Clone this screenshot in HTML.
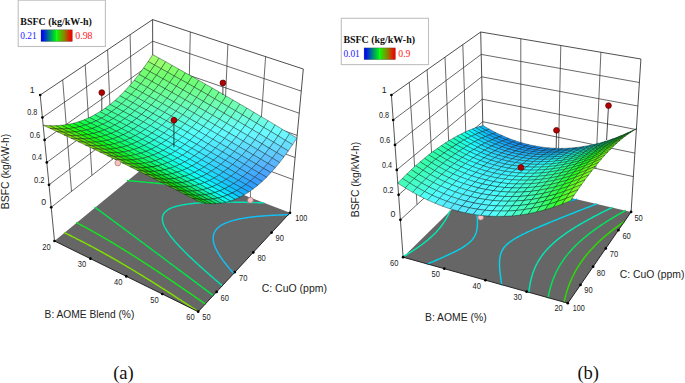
<!DOCTYPE html>
<html lang="en"><head><meta charset="utf-8"><title>BSFC response surfaces</title>
<style>html,body{margin:0;padding:0;background:#fff}svg{display:block}</style></head>
<body>
<svg width="685" height="383" viewBox="0 0 685 383">
<defs><linearGradient id="lg" x1="0" x2="1" y1="0" y2="0"><stop offset="0" stop-color="#0008f0"/><stop offset="0.06" stop-color="#0010ec"/><stop offset="0.25" stop-color="#007a86"/><stop offset="0.47" stop-color="#00ec14"/><stop offset="0.5" stop-color="#10ff30"/><stop offset="0.53" stop-color="#22e800"/><stop offset="0.75" stop-color="#8e8000"/><stop offset="0.95" stop-color="#ee0800"/><stop offset="1" stop-color="#f00000"/></linearGradient></defs>
<rect width="685" height="383" fill="#fff"/>
<polygon points="54.5,241 198.2,311.7 290,212.8 153,160" fill="#666"/>
<path d="M42.4,117.5L152.7,41.2L301.3,91.1M44.6,139.9L152.7,62.8L299.2,113.2M46.8,162.4L152.8,84.4L297.2,135.4M49,184.8L152.8,106L295.1,157.5M51.2,207.3L152.9,127.6L293.1,179.6M62.7,79.9L71.5,191.4M85.2,64.8L91.9,175.4M107.6,49.8L112.2,159.5M130.1,34.7L132.6,143.5M190.3,32L187.9,140.6M227.9,44.3L223,153.6M265.6,56.6L258,166.6" fill="none" stroke="#2a2a2a" stroke-width="0.7"/>
<path d="M40.2,95L152.6,19.6L303.3,69L290,212.8M152.6,19.6L153,160" fill="none" stroke="#222" stroke-width="0.8" stroke-linejoin="round"/>
<polyline points="196.8,310.7 195.7,310 194.6,309.2 193.4,308.4 192.2,307.7 191.1,306.9 189.9,306.1 189.3,305.7 188.7,305.4 187.6,304.6 186.4,303.8 185.3,303.1 184.1,302.3 182.9,301.6 181.8,300.8 181.6,300.7 180.6,300 179.5,299.3 178.3,298.6 177.2,297.8 176,297.1 174.9,296.3 173.8,295.6 173.7,295.6 172.6,294.8 171.5,294.1 170.3,293.4 169.2,292.6 168.1,291.9 166.9,291.2 165.8,290.5 165.6,290.3 164.7,289.7 163.5,289 162.4,288.3 161.3,287.6 160.1,286.9 159,286.1 157.9,285.4 157.1,285 156.8,284.7 155.6,284 154.5,283.3 153.4,282.6 152.3,281.9 151.2,281.2 150,280.5 148.9,279.8 148.2,279.4 147.8,279.1 146.7,278.4 145.6,277.8 144.5,277.1 143.4,276.4 142.3,275.7 141.1,275 140,274.3 138.9,273.7 138.7,273.6 137.8,273 136.7,272.3 135.6,271.7 134.5,271 133.4,270.3 132.3,269.7 131.2,269 130.1,268.3 129,267.7 128.4,267.4 127.9,267 126.8,266.4 125.7,265.7 124.6,265.1 123.5,264.4 122.4,263.8 121.3,263.2 120.2,262.5 119.1,261.9 118,261.2 116.9,260.6 116.8,260.5 115.8,260 114.7,259.3 113.7,258.7 112.6,258.1 111.5,257.5 110.4,256.9 109.3,256.2 108.2,255.6 107.1,255 106,254.4 104.9,253.8 103.8,253.2 102.8,252.6 102.8,252.6 101.7,252 100.6,251.4 99.5,250.8 98.4,250.2 97.3,249.6 96.2,249 95.2,248.4 94.1,247.8 93,247.2 91.9,246.7 90.8,246.1 89.7,245.5 88.6,244.9 87.5,244.4 86.5,243.8 85.4,243.2 84.3,242.7 83.2,242.1 82.1,241.5 81.7,241.3 81,241 79.9,240.4 78.9,239.9 77.8,239.3 76.7,238.8 75.6,238.2 74.5,237.7 73.4,237.1 72.3,236.6 71.2,236 70.2,235.5 69.1,235 68,234.4 66.9,233.9 65.8,233.4 64.7,232.9" fill="none" stroke="#7fe000" stroke-width="1.45" stroke-linecap="round" stroke-linejoin="round"/>
<polyline points="205.2,303.9 204.1,303.1 202.9,302.3 201.8,301.5 200.7,300.7 200.4,300.6 199.5,299.9 198.4,299.2 197.3,298.4 196.1,297.6 195,296.8 194.4,296.4 193.9,296 192.7,295.2 191.6,294.5 190.5,293.7 189.4,292.9 188.3,292.2 188.3,292.2 187.2,291.4 186,290.6 184.9,289.9 183.8,289.1 182.7,288.3 182.2,288 181.6,287.6 180.5,286.8 179.4,286.1 178.3,285.3 177.2,284.6 176.1,283.8 176,283.8 175,283.1 173.9,282.3 172.8,281.6 171.7,280.9 170.6,280.1 169.8,279.5 169.5,279.4 168.4,278.6 167.3,277.9 166.2,277.2 165.2,276.5 164.1,275.7 163.4,275.3 163,275 161.9,274.3 160.8,273.6 159.7,272.8 158.7,272.1 157.6,271.4 156.9,270.9 156.5,270.7 155.4,270 154.4,269.3 153.3,268.6 152.2,267.9 151.2,267.2 150.2,266.5 150.1,266.5 149,265.8 148,265.1 146.9,264.4 145.8,263.7 144.8,263 143.7,262.3 143.3,262.1 142.6,261.6 141.6,260.9 140.5,260.2 139.5,259.6 138.4,258.9 137.3,258.2 136.3,257.5 136.2,257.5 135.2,256.9 134.2,256.2 133.1,255.5 132.1,254.9 131,254.2 130,253.5 128.9,252.9 128.7,252.7 127.9,252.2 126.8,251.6 125.8,250.9 124.7,250.3 123.7,249.6 122.6,249 121.6,248.3 120.7,247.8 120.5,247.7 119.5,247 118.5,246.4 117.4,245.8 116.4,245.1 115.3,244.5 114.3,243.9 113.2,243.2 112.2,242.6 112.1,242.5 111.2,242 110.1,241.4 109.1,240.7 108,240.1 107,239.5 106,238.9 104.9,238.3 103.9,237.7 102.8,237.1 102.2,236.7 101.8,236.5 100.8,235.9 99.7,235.3 98.7,234.7 97.6,234.1 96.6,233.5 95.6,232.9 94.5,232.3 93.5,231.8 92.4,231.2 91.4,230.6 90.4,230 90.2,229.9 89.3,229.4 88.3,228.9 87.2,228.3 86.2,227.7 85.2,227.2 84.1,226.6 83.1,226.1 82,225.5 81,225 79.9,224.4 78.9,223.9 77.8,223.3 76.8,222.8" fill="none" stroke="#14e61c" stroke-width="1.45" stroke-linecap="round" stroke-linejoin="round"/>
<polyline points="143.9,166.8 145.2,167 145.8,167.1 146.4,167.3 147.7,167.5 149,167.8 150,167.9 150.3,168 151.6,168.2 152.9,168.5 154.2,168.7 154.2,168.7 155.5,168.9 156.8,169.2 158.1,169.4 158.2,169.4 159.4,169.6 160.7,169.9 162,170.1 162.3,170.1 163.3,170.3 164.7,170.6 166,170.8 166.2,170.8 167.3,171 168.6,171.2 170,171.5 170.2,171.5 171.3,171.7 172.6,171.9 173.9,172.1 174,172.1 175.3,172.3 176.6,172.6 177.9,172.8 178,172.8 179.3,173 180.7,173.2 181.7,173.4 182,173.4 183.3,173.6 184.7,173.8 185.4,173.9 186.1,174 187.4,174.3 188.8,174.5 189.2,174.5 190.1,174.7 191.5,174.9 192.9,175.1 192.9,175.1 194.2,175.3 195.6,175.5 196.6,175.6" fill="none" stroke="#14e61c" stroke-width="1.45" stroke-linecap="round" stroke-linejoin="round"/>
<polyline points="213.1,295.4 212,294.6 211.7,294.3 210.9,293.8 209.8,293 208.8,292.1 207.7,291.3 207.1,290.9 206.6,290.5 205.5,289.7 204.4,288.9 203.3,288.1 202.5,287.5 202.2,287.3 201.2,286.5 200.1,285.7 199,284.8 198,284.1 198,284 196.9,283.2 195.8,282.4 194.8,281.7 193.7,280.9 193.5,280.7 192.6,280.1 191.6,279.3 190.5,278.5 189.5,277.7 189.1,277.4 188.4,276.9 187.4,276.1 186.3,275.3 185.3,274.6 184.7,274.1 184.2,273.8 183.2,273 182.2,272.2 181.1,271.4 180.3,270.9 180.1,270.7 179,269.9 178,269.1 177,268.3 176,267.6 176,267.6 174.9,266.8 173.9,266 172.9,265.3 171.9,264.5 171.7,264.4 170.9,263.8 169.8,263 168.8,262.2 167.8,261.5 167.4,261.2 166.8,260.7 165.8,260 164.8,259.2 163.8,258.5 163.2,258 162.8,257.7 161.8,257 160.8,256.2 159.8,255.5 159,254.9 158.8,254.7 157.8,254 156.8,253.2 155.8,252.5 154.8,251.8 154.8,251.8 153.8,251 152.9,250.3 151.9,249.6 150.9,248.8 150.7,248.7 149.9,248.1 148.9,247.4 148,246.6 147,245.9 146.5,245.6 146,245.2 145.1,244.5 144.1,243.7 143.1,243 142.5,242.5 142.2,242.3 141.2,241.6 140.2,240.9 139.3,240.2 138.4,239.5 138.3,239.4 137.4,238.7 136.4,238 135.5,237.3 134.5,236.6 134.4,236.5 133.6,235.9 132.6,235.2 131.7,234.5 130.7,233.8 130.3,233.5 129.8,233.1 128.9,232.4 127.9,231.7 127,231 126.4,230.5 126,230.3 125.1,229.6 124.2,228.9 123.2,228.2 122.4,227.6 122.3,227.5 121.4,226.8 120.5,226.1 119.5,225.5 118.6,224.8 118.4,224.6 117.7,224.1 116.8,223.4 115.9,222.7 114.9,222 114.5,221.7 114,221.4 113.1,220.7 112.2,220 111.3,219.3 110.6,218.8 110.4,218.7 109.5,218 108.6,217.3 107.7,216.7 106.8,216 106.7,215.9 105.9,215.3 105,214.7 104.1,214 103.2,213.3 102.8,213.1 102.3,212.7 101.4,212 100.5,211.4 99.6,210.7 98.9,210.2 98.7,210 97.8,209.4 96.9,208.7 96.1,208.1 95.2,207.4" fill="none" stroke="#00e648" stroke-width="1.45" stroke-linecap="round" stroke-linejoin="round"/>
<polyline points="127.4,180.5 128.9,180.6 129.4,180.7 130.3,180.8 131.8,180.9 132.4,181 133.2,181 134.7,181.2 135.4,181.2 136.1,181.3 137.5,181.4 138.4,181.5 139,181.6 140.4,181.7 141.4,181.8 141.9,181.9 143.3,182 144.4,182.1 144.8,182.1 146.2,182.3 147.4,182.4 147.7,182.4 149.1,182.5 150.4,182.6 150.6,182.7 152,182.8 153.4,182.9 153.5,182.9 154.9,183.1 156.4,183.2 156.4,183.2 157.9,183.3 159.3,183.5 159.4,183.5 160.8,183.6 162.2,183.7 162.4,183.7 163.7,183.9 165.1,184 165.4,184 166.6,184.1 168.1,184.3 168.4,184.3 169.5,184.4 171,184.5 171.4,184.6 172.5,184.7 173.9,184.8 174.5,184.8 175.4,184.9 176.8,185.1 177.5,185.1 178.3,185.2 179.8,185.3 180.5,185.4 181.2,185.5 182.7,185.6 183.5,185.7 184.2,185.7 185.7,185.9 186.5,185.9 187.1,186 188.6,186.1 189.5,186.2 190.1,186.3 191.5,186.4 192.6,186.5 193,186.5 194.5,186.7 195.6,186.8 196,186.8 197.4,186.9 198.6,187 198.9,187.1 200.4,187.2 201.7,187.3 201.9,187.3 203.3,187.5 204.7,187.6 204.8,187.6 206.3,187.7 207.7,187.9 207.8,187.9 209.3,188 210.7,188.1 210.8,188.1 212.2,188.3 213.7,188.4 213.8,188.4 215.2,188.5 216.7,188.7 216.8,188.7 218.2,188.8 219.6,188.9 219.9,189 221.1,189.1 222.6,189.2 222.9,189.2 224.1,189.3 225.6,189.5 226,189.5 227.1,189.6 228.6,189.7 229,189.8 230.1,189.9 231.6,190 232.1,190.1" fill="none" stroke="#00e648" stroke-width="1.45" stroke-linecap="round" stroke-linejoin="round"/>
<polyline points="222.3,285.6 221.8,285.2 221.3,284.7 220.2,283.9 219.2,283 218.6,282.5 218.2,282.1 217.2,281.3 216.1,280.4 215.5,279.8 215.1,279.5 214.1,278.7 213.1,277.8 212.4,277.2 212.1,276.9 211.1,276.1 210.1,275.2 209.4,274.6 209.1,274.3 208.2,273.5 207.2,272.6 206.5,272 206.2,271.7 205.2,270.9 204.2,270 203.6,269.5 203.3,269.2 202.3,268.3 201.3,267.4 200.9,267 200.4,266.6 199.4,265.7 198.5,264.8 198.2,264.6 197.5,264 196.6,263.1 195.7,262.3 195.6,262.2 194.7,261.4 193.8,260.5 193.1,259.9 192.9,259.7 192,258.8 191,257.9 190.7,257.6 190.1,257.1 189.2,256.2 188.3,255.4 188.3,255.3 187.4,254.5 186.5,253.6 186.1,253.2 185.7,252.7 184.8,251.8 183.9,251 183.9,251 183,250.1 182.2,249.2 181.9,248.9 181.3,248.3 180.5,247.5 179.9,246.9 179.6,246.6 178.8,245.7 178.1,244.9 178,244.8 177.2,243.9 176.3,243 176.3,242.9 175.5,242.1 174.7,241.2 174.6,241 174,240.3 173.2,239.3 173,239.2 172.4,238.4 171.7,237.5 171.6,237.4 170.9,236.6 170.2,235.7 170.2,235.6 169.5,234.6 169,234 168.8,233.7 168.1,232.7 167.8,232.3 167.4,231.7 166.8,230.8 166.8,230.7 166.2,229.7 165.9,229.2 165.6,228.7 165,227.7 165,227.6 164.4,226.5 164.3,226.3 163.9,225.4 163.7,225 163.5,224.3 163.2,223.6 163.1,223.1 162.9,222.4 162.7,221.8 162.6,221.2 162.5,220.5 162.4,220 162.4,219 162.4,218.9 162.4,217.8 162.5,217.4 162.5,216.8 162.8,215.8 162.9,215.4 163.1,214.9 163.6,214 164.1,213.2 164.7,212.4 165.5,211.7 166.3,210.9 167.2,210.3 168.1,209.6 169.2,209 170.3,208.5 170.8,208.2 171.5,207.9 172.8,207.4 173.7,207.1 174.1,207 175.5,206.5 176.3,206.3 177,206.1 178.5,205.7 178.6,205.7 180.1,205.4 180.8,205.2 181.7,205 182.9,204.8 183.4,204.7 184.9,204.5 185.1,204.4 186.9,204.2 186.9,204.2 188.8,203.9 188.8,203.9 190.6,203.7 190.7,203.7 192.6,203.5 192.6,203.5 194.5,203.3 194.5,203.3 196.3,203.2 196.5,203.1 198.1,203 198.6,203 199.9,202.9 200.7,202.8 201.7,202.8 202.8,202.7 203.4,202.7 204.9,202.6 205.2,202.6 206.9,202.5 207.1,202.5 208.7,202.4 209.3,202.4 210.4,202.4 211.5,202.3 212.1,202.3 213.8,202.3 213.8,202.3 215.5,202.2 216.1,202.2 217.2,202.2 218.4,202.2 218.9,202.2 220.6,202.2 220.8,202.2 222.2,202.1 223.1,202.1 223.9,202.1 225.5,202.1 225.6,202.1 227.2,202.1 227.9,202.1 228.9,202.1 230.4,202.1 230.5,202.1 232.2,202.1 232.8,202.1 233.8,202.2 235.3,202.2 235.5,202.2 237.1,202.2 237.8,202.2 238.7,202.2 240.3,202.2 240.4,202.2 242,202.3 242.8,202.3 243.6,202.3 245.2,202.3 245.4,202.3 246.9,202.4 247.9,202.4 248.5,202.4 250.1,202.5 250.5,202.5 251.7,202.5 253.1,202.5 253.3,202.5 255,202.6 255.7,202.6 256.6,202.6 258.2,202.7 258.3,202.7 259.8,202.8 261,202.8 261.4,202.8 263,202.9 263.6,202.9" fill="none" stroke="#00e2b4" stroke-width="1.45" stroke-linecap="round" stroke-linejoin="round"/>
<polyline points="233.7,273.4 232.9,272.4 232.3,271.8 232,271.4 231.1,270.4 230.6,269.8 230.2,269.4 229.4,268.4 228.9,267.9 228.5,267.4 227.7,266.3 227.4,266 226.8,265.3 226,264.3 225.9,264.1 225.2,263.3 224.5,262.3 224.4,262.2 223.6,261.2 223.1,260.6 222.8,260.1 222.1,259.1 221.9,258.8 221.3,258 220.7,257.1 220.6,256.9 219.9,255.8 219.7,255.5 219.2,254.7 218.7,253.9 218.5,253.6 217.8,252.5 217.7,252.4 217.2,251.3 216.9,250.8 216.6,250.1 216.2,249.4 216,248.9 215.5,247.9 215.4,247.7 214.9,246.6 214.9,246.4 214.4,245.2 214.4,245.1 214,243.9 214,243.8 213.7,242.6 213.6,242.4 213.4,241.4 213.4,240.9 213.3,240.2 213.2,239.4 213.2,239 213.2,237.9 213.2,237.7 213.2,236.8 213.3,235.8 213.4,235.7 213.6,234.8 213.8,233.8 214,233.4 214.2,232.9 214.6,232 215.1,231.1 215.7,230.3 216.3,229.4 216.9,228.8 217,228.7 217.8,227.9 217.9,227.8 218.6,227.2 219.5,226.5 220.4,225.8 221.4,225.2 222.5,224.6 223.3,224.2 223.6,224 224.8,223.4 226,222.9 226.4,222.7 227.3,222.4 228.6,221.9 229.2,221.7 229.9,221.4 231.4,221 231.7,220.9 232.8,220.6 234,220.2 234.3,220.1 235.9,219.8 236.3,219.7 237.5,219.4 238.5,219.2 239.1,219 240.6,218.7 240.8,218.7 242.5,218.4 242.7,218.3 244.2,218.1 244.7,218 246,217.8 246.7,217.7 247.9,217.5 248.7,217.4 249.7,217.3 250.6,217.2 251.6,217 252.6,216.9 253.5,216.8 254.5,216.7 255.5,216.6 256.4,216.5 257.5,216.4 258.2,216.3 259.5,216.2 260.1,216.2 261.5,216 261.9,216 263.6,215.9 263.8,215.9 265.6,215.7 265.7,215.7 267.4,215.6 267.8,215.6 269.2,215.5 269.9,215.4 271,215.4 272.1,215.3 272.8,215.3 274.3,215.2 274.5,215.2 276.3,215.1 276.5,215.1 278.1,215.1 278.7,215 279.8,215 281,214.9 281.6,214.9 283.3,214.9 283.3,214.9 285,214.8 285.6,214.8 286.8,214.8 287.9,214.8 288.5,214.7" fill="none" stroke="#12c0f6" stroke-width="1.45" stroke-linecap="round" stroke-linejoin="round"/>
<line x1="117.8" y1="163" x2="117.8" y2="158" stroke="#333" stroke-width="0.7"/>
<line x1="250.4" y1="200.2" x2="250.4" y2="191" stroke="#333" stroke-width="0.7"/>
<g stroke="#07140c" stroke-opacity="0.72" stroke-width="0.55" stroke-linejoin="round">
<polygon points="148.1,61.5 154.6,65.1 159.1,58.1 152.7,54.6" fill="#9eff6e"/>
<polygon points="143.5,68.1 150,71.7 154.6,65.1 148.1,61.5" fill="#85ff6e"/>
<polygon points="154.6,65.1 161.1,68.7 165.7,61.7 159.1,58.1" fill="#95ff6e"/>
<polygon points="161.1,68.7 167.7,72.3 172.2,65.4 165.7,61.7" fill="#8bff6e"/>
<polygon points="150,71.7 156.5,75.2 161.1,68.7 154.6,65.1" fill="#7cff6e"/>
<polygon points="138.9,74.4 145.4,77.9 150,71.7 143.5,68.1" fill="#70ff6e"/>
<polygon points="167.7,72.3 174.3,76 178.8,69.1 172.2,65.4" fill="#81ff6e"/>
<polygon points="156.5,75.2 163.1,78.9 167.7,72.3 161.1,68.7" fill="#73ff6e"/>
<polygon points="145.4,77.9 151.9,81.5 156.5,75.2 150,71.7" fill="#6eff74"/>
<polygon points="134.2,80.3 140.7,83.8 145.4,77.9 138.9,74.4" fill="#6dff7d"/>
<polygon points="174.3,76 180.9,79.7 185.4,72.8 178.8,69.1" fill="#78ff6e"/>
<polygon points="163.1,78.9 169.7,82.5 174.3,76 167.7,72.3" fill="#6eff71"/>
<polygon points="151.9,81.5 158.5,85.1 163.1,78.9 156.5,75.2" fill="#6eff7c"/>
<polygon points="140.7,83.8 147.3,87.3 151.9,81.5 145.4,77.9" fill="#6dff84"/>
<polygon points="129.5,85.8 136,89.3 140.7,83.8 134.2,80.3" fill="#6aff88"/>
<polygon points="180.9,79.7 187.6,83.4 192.1,76.6 185.4,72.8" fill="#6eff6e"/>
<polygon points="169.7,82.5 176.3,86.2 180.9,79.7 174.3,76" fill="#6eff7a"/>
<polygon points="158.5,85.1 165.1,88.7 169.7,82.5 163.1,78.9" fill="#6eff84"/>
<polygon points="147.3,87.3 153.8,90.9 158.5,85.1 151.9,81.5" fill="#6cff8a"/>
<polygon points="136,89.3 142.6,92.8 147.3,87.3 140.7,83.8" fill="#69ff8e"/>
<polygon points="124.7,91 131.2,94.5 136,89.3 129.5,85.8" fill="#65ff90"/>
<polygon points="187.6,83.4 194.3,87.2 198.8,80.4 192.1,76.6" fill="#6eff77"/>
<polygon points="176.3,86.2 183,89.9 187.6,83.4 180.9,79.7" fill="#6eff82"/>
<polygon points="165.1,88.7 171.8,92.4 176.3,86.2 169.7,82.5" fill="#6eff8b"/>
<polygon points="153.8,90.9 160.5,94.5 165.1,88.7 158.5,85.1" fill="#6cff91"/>
<polygon points="142.6,92.8 149.2,96.4 153.8,90.9 147.3,87.3" fill="#69ff95"/>
<polygon points="194.3,87.2 201.1,91 205.6,84.2 198.8,80.4" fill="#6eff80"/>
<polygon points="131.2,94.5 137.8,98 142.6,92.8 136,89.3" fill="#65ff97"/>
<polygon points="183,89.9 189.8,93.7 194.3,87.2 187.6,83.4" fill="#6eff8b"/>
<polygon points="171.8,92.4 178.5,96.1 183,89.9 176.3,86.2" fill="#6eff93"/>
<polygon points="160.5,94.5 167.1,98.2 171.8,92.4 165.1,88.7" fill="#6bff99"/>
<polygon points="119.9,95.9 126.4,99.3 131.2,94.5 124.7,91" fill="#60ff97"/>
<polygon points="149.2,96.4 155.8,100 160.5,94.5 153.8,90.9" fill="#68ff9d"/>
<polygon points="201.1,91 207.9,94.9 212.4,88.1 205.6,84.2" fill="#6eff89"/>
<polygon points="189.8,93.7 196.5,97.5 201.1,91 194.3,87.2" fill="#6eff93"/>
<polygon points="137.8,98 144.4,101.6 149.2,96.4 142.6,92.8" fill="#64ffa0"/>
<polygon points="178.5,96.1 185.2,99.8 189.8,93.7 183,89.9" fill="#6dff9b"/>
<polygon points="167.1,98.2 173.9,101.9 178.5,96.1 171.8,92.4" fill="#6bffa2"/>
<polygon points="126.4,99.3 133,102.8 137.8,98 131.2,94.5" fill="#5fff9f"/>
<polygon points="155.8,100 162.5,103.6 167.1,98.2 160.5,94.5" fill="#67ffa6"/>
<polygon points="207.9,94.9 214.7,98.8 219.2,92 212.4,88.1" fill="#6eff92"/>
<polygon points="196.5,97.5 203.4,101.4 207.9,94.9 201.1,91" fill="#6eff9b"/>
<polygon points="115,100.4 121.6,103.8 126.4,99.3 119.9,95.9" fill="#59ff9c"/>
<polygon points="144.4,101.6 151.1,105.1 155.8,100 149.2,96.4" fill="#63ffa8"/>
<polygon points="185.2,99.8 192,103.6 196.5,97.5 189.8,93.7" fill="#6dffa5"/>
<polygon points="173.9,101.9 180.6,105.6 185.2,99.8 178.5,96.1" fill="#6affac"/>
<polygon points="133,102.8 139.6,106.4 144.4,101.6 137.8,98" fill="#5effa8"/>
<polygon points="162.5,103.6 169.2,107.3 173.9,101.9 167.1,98.2" fill="#66ffb0"/>
<polygon points="214.7,98.8 221.6,102.8 226.1,96 219.2,92" fill="#6eff9b"/>
<polygon points="203.4,101.4 210.2,105.3 214.7,98.8 207.9,94.9" fill="#6effa6"/>
<polygon points="121.6,103.8 128.2,107.3 133,102.8 126.4,99.3" fill="#58ffa4"/>
<polygon points="151.1,105.1 157.8,108.8 162.5,103.6 155.8,100" fill="#62ffb1"/>
<polygon points="192,103.6 198.8,107.5 203.4,101.4 196.5,97.5" fill="#6cffaf"/>
<polygon points="180.6,105.6 187.4,109.4 192,103.6 185.2,99.8" fill="#69ffb6"/>
<polygon points="139.6,106.4 146.3,109.9 151.1,105.1 144.4,101.6" fill="#5dffb1"/>
<polygon points="110.1,104.5 116.6,107.9 121.6,103.8 115,100.4" fill="#52ff9e"/>
<polygon points="221.6,102.8 228.5,106.8 233,100 226.1,96" fill="#6effa6"/>
<polygon points="169.2,107.3 176,111.1 180.6,105.6 173.9,101.9" fill="#66ffb9"/>
<polygon points="210.2,105.3 217.1,109.2 221.6,102.8 214.7,98.8" fill="#6effb2"/>
<polygon points="128.2,107.3 134.8,110.8 139.6,106.4 133,102.8" fill="#57ffad"/>
<polygon points="198.8,107.5 205.7,111.4 210.2,105.3 203.4,101.4" fill="#6cffba"/>
<polygon points="157.8,108.8 164.5,112.4 169.2,107.3 162.5,103.6" fill="#61ffbb"/>
<polygon points="187.4,109.4 194.2,113.2 198.8,107.5 192,103.6" fill="#69ffc0"/>
<polygon points="146.3,109.9 153,113.5 157.8,108.8 151.1,105.1" fill="#5cffba"/>
<polygon points="228.5,106.8 235.5,110.8 239.9,104.1 233,100" fill="#6effb2"/>
<polygon points="116.6,107.9 123.2,111.4 128.2,107.3 121.6,103.8" fill="#51ffa6"/>
<polygon points="176,111.1 182.8,114.8 187.4,109.4 180.6,105.6" fill="#65ffc3"/>
<polygon points="217.1,109.2 224,113.2 228.5,106.8 221.6,102.8" fill="#6dffbd"/>
<polygon points="205.7,111.4 212.6,115.3 217.1,109.2 210.2,105.3" fill="#6bffc5"/>
<polygon points="134.8,110.8 141.5,114.4 146.3,109.9 139.6,106.4" fill="#56ffb6"/>
<polygon points="164.5,112.4 171.3,116.1 176,111.1 169.2,107.3" fill="#61ffc5"/>
<polygon points="105,108.3 111.6,111.7 116.6,107.9 110.1,104.5" fill="#49ff9c"/>
<polygon points="194.2,113.2 201.1,117.1 205.7,111.4 198.8,107.5" fill="#68ffcb"/>
<polygon points="235.5,110.8 242.5,114.9 246.9,108.1 239.9,104.1" fill="#6effbe"/>
<polygon points="153,113.5 159.8,117.2 164.5,112.4 157.8,108.8" fill="#5bffc3"/>
<polygon points="182.8,114.8 189.6,118.6 194.2,113.2 187.4,109.4" fill="#64ffce"/>
<polygon points="123.2,111.4 129.9,114.9 134.8,110.8 128.2,107.3" fill="#50ffae"/>
<polygon points="224,113.2 231,117.2 235.5,110.8 228.5,106.8" fill="#6dffc8"/>
<polygon points="212.6,115.3 219.5,119.2 224,113.2 217.1,109.2" fill="#6affd1"/>
<polygon points="171.3,116.1 178.1,119.9 182.8,114.8 176,111.1" fill="#60ffd0"/>
<polygon points="141.5,114.4 148.2,117.9 153,113.5 146.3,109.9" fill="#55ffbf"/>
<polygon points="201.1,117.1 208,121 212.6,115.3 205.7,111.4" fill="#67ffd7"/>
<polygon points="111.6,111.7 118.2,115.1 123.2,111.4 116.6,107.9" fill="#48ffa4"/>
<polygon points="242.5,114.9 249.5,119 253.9,112.3 246.9,108.1" fill="#6effcb"/>
<polygon points="159.8,117.2 166.6,120.9 171.3,116.1 164.5,112.4" fill="#5affce"/>
<polygon points="231,117.2 238,121.3 242.5,114.9 235.5,110.8" fill="#6cffd5"/>
<polygon points="189.6,118.6 196.5,122.5 201.1,117.1 194.2,113.2" fill="#63ffda"/>
<polygon points="129.9,114.9 136.6,118.4 141.5,114.4 134.8,110.8" fill="#4effb7"/>
<polygon points="219.5,119.2 226.5,123.3 231,117.2 224,113.2" fill="#6affdd"/>
<polygon points="99.9,111.7 106.5,115.1 111.6,111.7 105,108.3" fill="#40ff95"/>
<polygon points="178.1,119.9 185,123.7 189.6,118.6 182.8,114.8" fill="#5fffdb"/>
<polygon points="148.2,117.9 155,121.6 159.8,117.2 153,113.5" fill="#54ffc9"/>
<polygon points="208,121 215,125 219.5,119.2 212.6,115.3" fill="#67ffe3"/>
<polygon points="249.5,119 256.6,123.2 261,116.5 253.9,112.3" fill="#6effd8"/>
<polygon points="118.2,115.1 124.9,118.6 129.9,114.9 123.2,111.4" fill="#47ffac"/>
<polygon points="238,121.3 245.1,125.4 249.5,119 242.5,114.9" fill="#6cffe2"/>
<polygon points="166.6,120.9 173.4,124.6 178.1,119.9 171.3,116.1" fill="#59ffd9"/>
<polygon points="196.5,122.5 203.5,126.4 208,121 201.1,117.1" fill="#63ffe6"/>
<polygon points="136.6,118.4 143.4,122 148.2,117.9 141.5,114.4" fill="#4dffc1"/>
<polygon points="226.5,123.3 233.5,127.3 238,121.3 231,117.2" fill="#69ffea"/>
<polygon points="185,123.7 191.9,127.5 196.5,122.5 189.6,118.6" fill="#5effe6"/>
<polygon points="106.5,115.1 113.2,118.5 118.2,115.1 111.6,111.7" fill="#3eff9d"/>
<polygon points="155,121.6 161.8,125.3 166.6,120.9 159.8,117.2" fill="#53ffd4"/>
<polygon points="215,125 222,129 226.5,123.3 219.5,119.2" fill="#66ffef"/>
<polygon points="256.6,123.2 263.7,127.4 268.1,120.7 261,116.5" fill="#6dffe6"/>
<polygon points="124.9,118.6 131.7,122.2 136.6,118.4 129.9,114.9" fill="#46ffb5"/>
<polygon points="245.1,125.4 252.2,129.5 256.6,123.2 249.5,119" fill="#6bfff0"/>
<polygon points="203.5,126.4 210.5,130.3 215,125 208,121" fill="#62fff2"/>
<polygon points="173.4,124.6 180.3,128.4 185,123.7 178.1,119.9" fill="#58ffe4"/>
<polygon points="233.5,127.3 240.6,131.4 245.1,125.4 238,121.3" fill="#69fff7"/>
<polygon points="143.4,122 150.2,125.6 155,121.6 148.2,117.9" fill="#4cffcb"/>
<polygon points="94.7,114.8 101.4,118.2 106.5,115.1 99.9,111.7" fill="#35ff8a"/>
<polygon points="191.9,127.5 198.9,131.4 203.5,126.4 196.5,122.5" fill="#5dfff2"/>
<polygon points="222,129 229.1,133 233.5,127.3 226.5,123.3" fill="#65fffa"/>
<polygon points="263.7,127.4 270.9,131.6 275.2,124.9 268.1,120.7" fill="#6dfff4"/>
<polygon points="161.8,125.3 168.7,129 173.4,124.6 166.6,120.9" fill="#52ffdf"/>
<polygon points="113.2,118.5 119.9,122 124.9,118.6 118.2,115.1" fill="#3dffa5"/>
<polygon points="252.2,129.5 259.3,133.7 263.7,127.4 256.6,123.2" fill="#6bfffb"/>
<polygon points="131.7,122.2 138.4,125.7 143.4,122 136.6,118.4" fill="#44ffbe"/>
<polygon points="210.5,130.3 217.5,134.3 222,129 215,125" fill="#61fffc"/>
<polygon points="180.3,128.4 187.3,132.2 191.9,127.5 185,123.7" fill="#57fff0"/>
<polygon points="240.6,131.4 247.7,135.5 252.2,129.5 245.1,125.4" fill="#68feff"/>
<polygon points="150.2,125.6 157,129.3 161.8,125.3 155,121.6" fill="#4bffd6"/>
<polygon points="270.9,131.6 278.1,135.9 282.4,129.3 275.2,124.9" fill="#6cfffe"/>
<polygon points="198.9,131.4 205.9,135.3 210.5,130.3 203.5,126.4" fill="#5cfffc"/>
<polygon points="101.4,118.2 108,121.6 113.2,118.5 106.5,115.1" fill="#34ff92"/>
<polygon points="229.1,133 236.2,137.1 240.6,131.4 233.5,127.3" fill="#64fbff"/>
<polygon points="168.7,129 175.6,132.8 180.3,128.4 173.4,124.6" fill="#51ffea"/>
<polygon points="259.3,133.7 266.5,138 270.9,131.6 263.7,127.4" fill="#6afaff"/>
<polygon points="119.9,122 126.6,125.5 131.7,122.2 124.9,118.6" fill="#3cffae"/>
<polygon points="217.5,134.3 224.6,138.3 229.1,133 222,129" fill="#60faff"/>
<polygon points="138.4,125.7 145.2,129.3 150.2,125.6 143.4,122" fill="#43ffc9"/>
<polygon points="187.3,132.2 194.2,136.1 198.9,131.4 191.9,127.5" fill="#56fffa"/>
<polygon points="247.7,135.5 254.9,139.7 259.3,133.7 252.2,129.5" fill="#67f5ff"/>
<polygon points="157,129.3 163.9,133 168.7,129 161.8,125.3" fill="#4affe1"/>
<polygon points="278.1,135.9 285.3,140.3 289.6,133.6 282.4,129.3" fill="#6cf6ff"/>
<polygon points="89.5,117.5 96.1,120.9 101.4,118.2 94.7,114.8" fill="#2aff79"/>
<polygon points="236.2,137.1 243.3,141.2 247.7,135.5 240.6,131.4" fill="#64f3ff"/>
<polygon points="205.9,135.3 212.9,139.3 217.5,134.3 210.5,130.3" fill="#5bfaff"/>
<polygon points="108,121.6 114.8,125 119.9,122 113.2,118.5" fill="#33ff9a"/>
<polygon points="266.5,138 273.7,142.2 278.1,135.9 270.9,131.6" fill="#69f1ff"/>
<polygon points="175.6,132.8 182.6,136.6 187.3,132.2 180.3,128.4" fill="#50fff6"/>
<polygon points="126.6,125.5 133.4,129.1 138.4,125.7 131.7,122.2" fill="#3affb7"/>
<polygon points="224.6,138.3 231.7,142.4 236.2,137.1 229.1,133" fill="#5ff1ff"/>
<polygon points="254.9,139.7 262.1,143.9 266.5,138 259.3,133.7" fill="#67ecff"/>
<polygon points="194.2,136.1 201.3,140 205.9,135.3 198.9,131.4" fill="#55fcff"/>
<polygon points="145.2,129.3 152.1,133 157,129.3 150.2,125.6" fill="#42ffd3"/>
<polygon points="285.3,140.3 292.6,144.6 296.9,138 289.6,133.6" fill="#6bedff"/>
<polygon points="163.9,133 170.8,136.8 175.6,132.8 168.7,129" fill="#48ffec"/>
<polygon points="243.3,141.2 250.5,145.4 254.9,139.7 247.7,135.5" fill="#63eaff"/>
<polygon points="212.9,139.3 220,143.3 224.6,138.3 217.5,134.3" fill="#5af2ff"/>
<polygon points="96.1,120.9 102.8,124.2 108,121.6 101.4,118.2" fill="#29ff81"/>
<polygon points="273.7,142.2 281,146.6 285.3,140.3 278.1,135.9" fill="#69e7ff"/>
<polygon points="114.8,125 121.5,128.5 126.6,125.5 119.9,122" fill="#31ffa2"/>
<polygon points="182.6,136.6 189.6,140.4 194.2,136.1 187.3,132.2" fill="#4ffffe"/>
<polygon points="231.7,142.4 238.8,146.5 243.3,141.2 236.2,137.1" fill="#5ee9ff"/>
<polygon points="133.4,129.1 140.3,132.7 145.2,129.3 138.4,125.7" fill="#39ffc1"/>
<polygon points="262.1,143.9 269.3,148.2 273.7,142.2 266.5,138" fill="#66e3ff"/>
<polygon points="201.3,140 208.3,144 212.9,139.3 205.9,135.3" fill="#54f4ff"/>
<polygon points="152.1,133 159,136.7 163.9,133 157,129.3" fill="#40ffde"/>
<polygon points="250.5,145.4 257.7,149.6 262.1,143.9 254.9,139.7" fill="#62e0ff"/>
<polygon points="170.8,136.8 177.8,140.6 182.6,136.6 175.6,132.8" fill="#47fff7"/>
<polygon points="220,143.3 227.2,147.4 231.7,142.4 224.6,138.3" fill="#59e9ff"/>
<polygon points="281,146.6 288.3,150.9 292.6,144.6 285.3,140.3" fill="#68ddff"/>
<polygon points="84.1,119.8 90.8,123.2 96.1,120.9 89.5,117.5" fill="#1fff63"/>
<polygon points="102.8,124.2 109.6,127.7 114.8,125 108,121.6" fill="#27ff89"/>
<polygon points="189.6,140.4 196.6,144.3 201.3,140 194.2,136.1" fill="#4ef8ff"/>
<polygon points="121.5,128.5 128.4,132.1 133.4,129.1 126.6,125.5" fill="#30ffab"/>
<polygon points="238.8,146.5 246,150.7 250.5,145.4 243.3,141.2" fill="#5edfff"/>
<polygon points="269.3,148.2 276.6,152.5 281,146.6 273.7,142.2" fill="#65d9ff"/>
<polygon points="140.3,132.7 147.2,136.3 152.1,133 145.2,129.3" fill="#38ffcc"/>
<polygon points="208.3,144 215.5,148 220,143.3 212.9,139.3" fill="#53ecff"/>
<polygon points="159,136.7 166,140.4 170.8,136.8 163.9,133" fill="#3fffea"/>
<polygon points="257.7,149.6 265,153.8 269.3,148.2 262.1,143.9" fill="#61d6ff"/>
<polygon points="227.2,147.4 234.3,151.5 238.8,146.5 231.7,142.4" fill="#58e0ff"/>
<polygon points="177.8,140.6 184.8,144.4 189.6,140.4 182.6,136.6" fill="#46ffff"/>
<polygon points="90.8,123.2 97.5,126.5 102.8,124.2 96.1,120.9" fill="#1dff69"/>
<polygon points="196.6,144.3 203.7,148.3 208.3,144 201.3,140" fill="#4cf0ff"/>
<polygon points="109.6,127.7 116.4,131.2 121.5,128.5 114.8,125" fill="#26ff91"/>
<polygon points="276.6,152.5 283.9,156.9 288.3,150.9 281,146.6" fill="#64ceff"/>
<polygon points="246,150.7 253.3,154.9 257.7,149.6 250.5,145.4" fill="#5dd5ff"/>
<polygon points="128.4,132.1 135.2,135.6 140.3,132.7 133.4,129.1" fill="#2effb5"/>
<polygon points="215.5,148 222.6,152 227.2,147.4 220,143.3" fill="#52e3ff"/>
<polygon points="147.2,136.3 154.1,140 159,136.7 152.1,133" fill="#36ffd7"/>
<polygon points="265,153.8 272.3,158.1 276.6,152.5 269.3,148.2" fill="#60ccff"/>
<polygon points="166,140.4 173,144.2 177.8,140.6 170.8,136.8" fill="#3efff5"/>
<polygon points="234.3,151.5 241.6,155.6 246,150.7 238.8,146.5" fill="#57d6ff"/>
<polygon points="184.8,144.4 191.9,148.3 196.6,144.3 189.6,140.4" fill="#45f7ff"/>
<polygon points="78.6,121.8 85.3,125.1 90.8,123.2 84.1,119.8" fill="#12ff49"/>
<polygon points="203.7,148.3 210.9,152.3 215.5,148 208.3,144" fill="#4be8ff"/>
<polygon points="253.3,154.9 260.6,159.1 265,153.8 257.7,149.6" fill="#5ccbff"/>
<polygon points="97.5,126.5 104.3,130 109.6,127.7 102.8,124.2" fill="#1cff71"/>
<polygon points="116.4,131.2 123.2,134.7 128.4,132.1 121.5,128.5" fill="#24ff99"/>
<polygon points="135.2,135.6 142.1,139.3 147.2,136.3 140.3,132.7" fill="#2dffbf"/>
<polygon points="222.6,152 229.8,156.1 234.3,151.5 227.2,147.4" fill="#51d9ff"/>
<polygon points="154.1,140 161.1,143.7 166,140.4 159,136.7" fill="#35ffe2"/>
<polygon points="272.3,158.1 279.6,162.5 283.9,156.9 276.6,152.5" fill="#60c1ff"/>
<polygon points="173,144.2 180.1,148 184.8,144.4 177.8,140.6" fill="#3cfffd"/>
<polygon points="241.6,155.6 248.8,159.8 253.3,154.9 246,150.7" fill="#56ccff"/>
<polygon points="191.9,148.3 199,152.2 203.7,148.3 196.6,144.3" fill="#43efff"/>
<polygon points="260.6,159.1 267.9,163.4 272.3,158.1 265,153.8" fill="#5bc1ff"/>
<polygon points="210.9,152.3 218,156.3 222.6,152 215.5,148" fill="#4adfff"/>
<polygon points="85.3,125.1 92.1,128.5 97.5,126.5 90.8,123.2" fill="#11ff4f"/>
<polygon points="104.3,130 111.1,133.4 116.4,131.2 109.6,127.7" fill="#1aff79"/>
<polygon points="123.2,134.7 130.1,138.2 135.2,135.6 128.4,132.1" fill="#23ffa2"/>
<polygon points="229.8,156.1 237.1,160.2 241.6,155.6 234.3,151.5" fill="#50cfff"/>
<polygon points="142.1,139.3 149.1,142.9 154.1,140 147.2,136.3" fill="#2bffca"/>
<polygon points="161.1,143.7 168.1,147.5 173,144.2 166,140.4" fill="#33ffee"/>
<polygon points="248.8,159.8 256.2,164 260.6,159.1 253.3,154.9" fill="#55c2ff"/>
<polygon points="180.1,148 187.2,151.9 191.9,148.3 184.8,144.4" fill="#3bf9ff"/>
<polygon points="199,152.2 206.2,156.2 210.9,152.3 203.7,148.3" fill="#42e6ff"/>
<polygon points="267.9,163.4 275.3,167.7 279.6,162.5 272.3,158.1" fill="#5ab6ff"/>
<polygon points="218,156.3 225.3,160.4 229.8,156.1 222.6,152" fill="#49d5ff"/>
<polygon points="92.1,128.5 98.9,131.9 104.3,130 97.5,126.5" fill="#0fff54"/>
<polygon points="237.1,160.2 244.4,164.4 248.8,159.8 241.6,155.6" fill="#4fc5ff"/>
<polygon points="111.1,133.4 118,136.9 123.2,134.7 116.4,131.2" fill="#18ff81"/>
<polygon points="73,123.4 79.8,126.7 85.3,125.1 78.6,121.8" fill="#0fff32"/>
<polygon points="130.1,138.2 137.1,141.8 142.1,139.3 135.2,135.6" fill="#21ffac"/>
<polygon points="149.1,142.9 156.1,146.6 161.1,143.7 154.1,140" fill="#2affd5"/>
<polygon points="168.1,147.5 175.2,151.3 180.1,148 173,144.2" fill="#32fff8"/>
<polygon points="256.2,164 263.5,168.3 267.9,163.4 260.6,159.1" fill="#54b7ff"/>
<polygon points="187.2,151.9 194.3,155.8 199,152.2 191.9,148.3" fill="#3af0ff"/>
<polygon points="206.2,156.2 213.4,160.2 218,156.3 210.9,152.3" fill="#41ddff"/>
<polygon points="225.3,160.4 232.6,164.5 237.1,160.2 229.8,156.1" fill="#47cbff"/>
<polygon points="244.4,164.4 251.7,168.6 256.2,164 248.8,159.8" fill="#4ebbff"/>
<polygon points="118,136.9 124.9,140.5 130.1,138.2 123.2,134.7" fill="#17ff8a"/>
<polygon points="98.9,131.9 105.7,135.3 111.1,133.4 104.3,130" fill="#0fff5b"/>
<polygon points="137.1,141.8 144.1,145.5 149.1,142.9 142.1,139.3" fill="#20ffb7"/>
<polygon points="79.8,126.7 86.5,130 92.1,128.5 85.3,125.1" fill="#0fff38"/>
<polygon points="156.1,146.6 163.2,150.4 168.1,147.5 161.1,143.7" fill="#28ffe1"/>
<polygon points="263.5,168.3 270.9,172.6 275.3,167.7 267.9,163.4" fill="#53acff"/>
<polygon points="175.2,151.3 182.4,155.2 187.2,151.9 180.1,148" fill="#31feff"/>
<polygon points="194.3,155.8 201.5,159.8 206.2,156.2 199,152.2" fill="#38e8ff"/>
<polygon points="213.4,160.2 220.7,164.3 225.3,160.4 218,156.3" fill="#40d3ff"/>
<polygon points="232.6,164.5 239.9,168.7 244.4,164.4 237.1,160.2" fill="#46c0ff"/>
<polygon points="251.7,168.6 259.1,172.9 263.5,168.3 256.2,164" fill="#4cb0ff"/>
<polygon points="124.9,140.5 131.9,144.1 137.1,141.8 130.1,138.2" fill="#15ff93"/>
<polygon points="144.1,145.5 151.1,149.2 156.1,146.6 149.1,142.9" fill="#1effc2"/>
<polygon points="105.7,135.3 112.6,138.8 118,136.9 111.1,133.4" fill="#0fff64"/>
<polygon points="163.2,150.4 170.3,154.2 175.2,151.3 168.1,147.5" fill="#27ffed"/>
<polygon points="86.5,130 93.4,133.4 98.9,131.9 92.1,128.5" fill="#0fff3e"/>
<polygon points="182.4,155.2 189.5,159.1 194.3,155.8 187.2,151.9" fill="#2ff5ff"/>
<polygon points="67.3,124.6 74.1,127.8 79.8,126.7 73,123.4" fill="#0fff17"/>
<polygon points="201.5,159.8 208.8,163.8 213.4,160.2 206.2,156.2" fill="#37dfff"/>
<polygon points="220.7,164.3 228,168.4 232.6,164.5 225.3,160.4" fill="#3ec9ff"/>
<polygon points="239.9,168.7 247.3,172.9 251.7,168.6 244.4,164.4" fill="#45b6ff"/>
<polygon points="259.1,172.9 266.6,177.2 270.9,172.6 263.5,168.3" fill="#4ba5ff"/>
<polygon points="151.1,149.2 158.2,152.9 163.2,150.4 156.1,146.6" fill="#1dffcd"/>
<polygon points="131.9,144.1 138.9,147.7 144.1,145.5 137.1,141.8" fill="#14ff9c"/>
<polygon points="170.3,154.2 177.5,158 182.4,155.2 175.2,151.3" fill="#25fff8"/>
<polygon points="112.6,138.8 119.6,142.3 124.9,140.5 118,136.9" fill="#0fff6d"/>
<polygon points="189.5,159.1 196.8,163 201.5,159.8 194.3,155.8" fill="#2eecff"/>
<polygon points="93.4,133.4 100.3,136.8 105.7,135.3 98.9,131.9" fill="#0fff44"/>
<polygon points="208.8,163.8 216.1,167.8 220.7,164.3 213.4,160.2" fill="#35d5ff"/>
<polygon points="74.1,127.8 80.9,131.1 86.5,130 79.8,126.7" fill="#0fff1e"/>
<polygon points="228,168.4 235.4,172.6 239.9,168.7 232.6,164.5" fill="#3dbfff"/>
<polygon points="247.3,172.9 254.7,177.1 259.1,172.9 251.7,168.6" fill="#44abff"/>
<polygon points="177.5,158 184.7,161.9 189.5,159.1 182.4,155.2" fill="#24feff"/>
<polygon points="158.2,152.9 165.4,156.7 170.3,154.2 163.2,150.4" fill="#1bffd9"/>
<polygon points="196.8,163 204.1,167 208.8,163.8 201.5,159.8" fill="#2ce4ff"/>
<polygon points="138.9,147.7 146,151.4 151.1,149.2 144.1,145.5" fill="#12ffa6"/>
<polygon points="216.1,167.8 223.4,172 228,168.4 220.7,164.3" fill="#34cbff"/>
<polygon points="119.6,142.3 126.6,145.9 131.9,144.1 124.9,140.5" fill="#0fff76"/>
<polygon points="235.4,172.6 242.8,176.8 247.3,172.9 239.9,168.7" fill="#3cb4ff"/>
<polygon points="100.3,136.8 107.2,140.3 112.6,138.8 105.7,135.3" fill="#0fff4b"/>
<polygon points="254.7,177.1 262.2,181.4 266.6,177.2 259.1,172.9" fill="#42a0ff"/>
<polygon points="80.9,131.1 87.8,134.5 93.4,133.4 86.5,130" fill="#0fff24"/>
<polygon points="61.5,125.3 68.3,128.6 74.1,127.8 67.3,124.6" fill="#28fd0f"/>
<polygon points="184.7,161.9 192,165.9 196.8,163 189.5,159.1" fill="#22f5ff"/>
<polygon points="204.1,167 211.4,171.1 216.1,167.8 208.8,163.8" fill="#2bdaff"/>
<polygon points="165.4,156.7 172.6,160.6 177.5,158 170.3,154.2" fill="#1affe6"/>
<polygon points="223.4,172 230.8,176.1 235.4,172.6 228,168.4" fill="#33c0ff"/>
<polygon points="146,151.4 153.1,155.1 158.2,152.9 151.1,149.2" fill="#11ffb2"/>
<polygon points="242.8,176.8 250.3,181 254.7,177.1 247.3,172.9" fill="#3aa9ff"/>
<polygon points="126.6,145.9 133.7,149.5 138.9,147.7 131.9,144.1" fill="#0fff80"/>
<polygon points="107.2,140.3 114.2,143.8 119.6,142.3 112.6,138.8" fill="#0fff52"/>
<polygon points="87.8,134.5 94.7,137.9 100.3,136.8 93.4,133.4" fill="#0fff2a"/>
<polygon points="68.3,128.6 75.1,131.9 80.9,131.1 74.1,127.8" fill="#22fc0f"/>
<polygon points="211.4,171.1 218.8,175.1 223.4,172 216.1,167.8" fill="#29d0ff"/>
<polygon points="192,165.9 199.3,169.9 204.1,167 196.8,163" fill="#21ecff"/>
<polygon points="230.8,176.1 238.3,180.3 242.8,176.8 235.4,172.6" fill="#31b5ff"/>
<polygon points="172.6,160.6 179.8,164.4 184.7,161.9 177.5,158" fill="#18fff2"/>
<polygon points="250.3,181 257.8,185.3 262.2,181.4 254.7,177.1" fill="#399dff"/>
<polygon points="153.1,155.1 160.3,158.9 165.4,156.7 158.2,152.9" fill="#0fffbe"/>
<polygon points="133.7,149.5 140.8,153.2 146,151.4 138.9,147.7" fill="#0fff8a"/>
<polygon points="114.2,143.8 121.2,147.4 126.6,145.9 119.6,142.3" fill="#0fff58"/>
<polygon points="94.7,137.9 101.7,141.4 107.2,140.3 100.3,136.8" fill="#0fff30"/>
<polygon points="75.1,131.9 82,135.2 87.8,134.5 80.9,131.1" fill="#1dfa0f"/>
<polygon points="55.6,125.7 62.4,129 68.3,128.6 61.5,125.3" fill="#4cf30f"/>
<polygon points="238.3,180.3 245.8,184.5 250.3,181 242.8,176.8" fill="#30aaff"/>
<polygon points="218.8,175.1 226.2,179.3 230.8,176.1 223.4,172" fill="#28c5ff"/>
<polygon points="199.3,169.9 206.7,173.9 211.4,171.1 204.1,167" fill="#1fe3ff"/>
<polygon points="179.8,164.4 187.1,168.4 192,165.9 184.7,161.9" fill="#17fffb"/>
<polygon points="160.3,158.9 167.5,162.7 172.6,160.6 165.4,156.7" fill="#0fffca"/>
<polygon points="140.8,153.2 148,156.9 153.1,155.1 146,151.4" fill="#0fff94"/>
<polygon points="121.2,147.4 128.3,151 133.7,149.5 126.6,145.9" fill="#0fff61"/>
<polygon points="101.7,141.4 108.7,144.9 114.2,143.8 107.2,140.3" fill="#0fff36"/>
<polygon points="82,135.2 89,138.6 94.7,137.9 87.8,134.5" fill="#16f90f"/>
<polygon points="245.8,184.5 253.3,188.8 257.8,185.3 250.3,181" fill="#2e9eff"/>
<polygon points="226.2,179.3 233.7,183.5 238.3,180.3 230.8,176.1" fill="#26baff"/>
<polygon points="206.7,173.9 214.1,178 218.8,175.1 211.4,171.1" fill="#1edaff"/>
<polygon points="62.4,129 69.2,132.2 75.1,131.9 68.3,128.6" fill="#47f10f"/>
<polygon points="187.1,168.4 194.5,172.4 199.3,169.9 192,165.9" fill="#15faff"/>
<polygon points="167.5,162.7 174.8,166.6 179.8,164.4 172.6,160.6" fill="#0fffd7"/>
<polygon points="148,156.9 155.2,160.7 160.3,158.9 153.1,155.1" fill="#0fff9f"/>
<polygon points="128.3,151 135.5,154.6 140.8,153.2 133.7,149.5" fill="#0fff6a"/>
<polygon points="108.7,144.9 115.8,148.4 121.2,147.4 114.2,143.8" fill="#0fff3d"/>
<polygon points="233.7,183.5 241.3,187.7 245.8,184.5 238.3,180.3" fill="#25afff"/>
<polygon points="89,138.6 96,142.1 101.7,141.4 94.7,137.9" fill="#10f80f"/>
<polygon points="214.1,178 221.6,182.1 226.2,179.3 218.8,175.1" fill="#1ccfff"/>
<polygon points="194.5,172.4 201.9,176.4 206.7,173.9 199.3,169.9" fill="#13f1ff"/>
<polygon points="69.2,132.2 76.2,135.6 82,135.2 75.1,131.9" fill="#41f00f"/>
<polygon points="174.8,166.6 182.2,170.5 187.1,168.4 179.8,164.4" fill="#0fffe4"/>
<polygon points="155.2,160.7 162.5,164.5 167.5,162.7 160.3,158.9" fill="#0fffaa"/>
<polygon points="49.5,125.7 56.3,128.9 62.4,129 55.6,125.7" fill="#72e90f"/>
<polygon points="135.5,154.6 142.7,158.3 148,156.9 140.8,153.2" fill="#0fff74"/>
<polygon points="115.8,148.4 122.9,152 128.3,151 121.2,147.4" fill="#0ffe43"/>
<polygon points="241.3,187.7 248.8,192 253.3,188.8 245.8,184.5" fill="#23a3ff"/>
<polygon points="221.6,182.1 229.1,186.3 233.7,183.5 226.2,179.3" fill="#1bc4ff"/>
<polygon points="96,142.1 103.1,145.5 108.7,144.9 101.7,141.4" fill="#0ff715"/>
<polygon points="201.9,176.4 209.4,180.5 214.1,178 206.7,173.9" fill="#12e7ff"/>
<polygon points="182.2,170.5 189.6,174.5 194.5,172.4 187.1,168.4" fill="#0ffff1"/>
<polygon points="76.2,135.6 83.2,138.9 89,138.6 82,135.2" fill="#3bef0f"/>
<polygon points="162.5,164.5 169.8,168.3 174.8,166.6 167.5,162.7" fill="#0fffb6"/>
<polygon points="56.3,128.9 63.2,132.2 69.2,132.2 62.4,129" fill="#6de70f"/>
<polygon points="142.7,158.3 150,162.1 155.2,160.7 148,156.9" fill="#0fff7d"/>
<polygon points="122.9,152 130.1,155.6 135.5,154.6 128.3,151" fill="#0ffd49"/>
<polygon points="229.1,186.3 236.7,190.5 241.3,187.7 233.7,183.5" fill="#19b9ff"/>
<polygon points="209.4,180.5 216.9,184.6 221.6,182.1 214.1,178" fill="#10deff"/>
<polygon points="103.1,145.5 110.2,149.1 115.8,148.4 108.7,144.9" fill="#0ff51b"/>
<polygon points="189.6,174.5 197,178.5 201.9,176.4 194.5,172.4" fill="#0ffffb"/>
<polygon points="83.2,138.9 90.2,142.3 96,142.1 89,138.6" fill="#35ee0f"/>
<polygon points="169.8,168.3 177.2,172.2 182.2,170.5 174.8,166.6" fill="#0fffc3"/>
<polygon points="150,162.1 157.3,165.9 162.5,164.5 155.2,160.7" fill="#0fff87"/>
<polygon points="63.2,132.2 70.2,135.5 76.2,135.6 69.2,132.2" fill="#68e60f"/>
<polygon points="236.7,190.5 244.3,194.8 248.8,192 241.3,187.7" fill="#18adff"/>
<polygon points="130.1,155.6 137.3,159.3 142.7,158.3 135.5,154.6" fill="#0ffc50"/>
<polygon points="216.9,184.6 224.4,188.7 229.1,186.3 221.6,182.1" fill="#0fd3ff"/>
<polygon points="43.2,125.2 50.1,128.4 56.3,128.9 49.5,125.7" fill="#8fdf0f"/>
<polygon points="110.2,149.1 117.3,152.7 122.9,152 115.8,148.4" fill="#0ff422"/>
<polygon points="197,178.5 204.6,182.5 209.4,180.5 201.9,176.4" fill="#0ffaff"/>
<polygon points="177.2,172.2 184.6,176.2 189.6,174.5 182.2,170.5" fill="#0fffcf"/>
<polygon points="90.2,142.3 97.3,145.8 103.1,145.5 96,142.1" fill="#2fec0f"/>
<polygon points="157.3,165.9 164.7,169.7 169.8,168.3 162.5,164.5" fill="#0fff92"/>
<polygon points="70.2,135.5 77.2,138.8 83.2,138.9 76.2,135.6" fill="#63e50f"/>
<polygon points="137.3,159.3 144.6,163.1 150,162.1 142.7,158.3" fill="#0ffa57"/>
<polygon points="224.4,188.7 232.1,193 236.7,190.5 229.1,186.3" fill="#0fc8ff"/>
<polygon points="50.1,128.4 57,131.6 63.2,132.2 56.3,128.9" fill="#8cde0f"/>
<polygon points="204.6,182.5 212.1,186.7 216.9,184.6 209.4,180.5" fill="#0ff1ff"/>
<polygon points="117.3,152.7 124.6,156.3 130.1,155.6 122.9,152" fill="#0ff328"/>
<polygon points="184.6,176.2 192.1,180.2 197,178.5 189.6,174.5" fill="#0fffdc"/>
<polygon points="97.3,145.8 104.5,149.3 110.2,149.1 103.1,145.5" fill="#2aeb0f"/>
<polygon points="164.7,169.7 172.1,173.6 177.2,172.2 169.8,168.3" fill="#0fff9c"/>
<polygon points="77.2,138.8 84.3,142.2 90.2,142.3 83.2,138.9" fill="#5de40f"/>
<polygon points="232.1,193 239.8,197.2 244.3,194.8 236.7,190.5" fill="#0fbdff"/>
<polygon points="144.6,163.1 152,166.9 157.3,165.9 150,162.1" fill="#0ff95e"/>
<polygon points="212.1,186.7 219.7,190.8 224.4,188.7 216.9,184.6" fill="#0fe8ff"/>
<polygon points="124.6,156.3 131.9,159.9 137.3,159.3 130.1,155.6" fill="#0ff12e"/>
<polygon points="57,131.6 64,134.9 70.2,135.5 63.2,132.2" fill="#88dc0f"/>
<polygon points="192.1,180.2 199.7,184.3 204.6,182.5 197,178.5" fill="#0fffe9"/>
<polygon points="104.5,149.3 111.7,152.9 117.3,152.7 110.2,149.1" fill="#24ea0f"/>
<polygon points="172.1,173.6 179.6,177.6 184.6,176.2 177.2,172.2" fill="#0fffa7"/>
<polygon points="152,166.9 159.4,170.7 164.7,169.7 157.3,165.9" fill="#0ff867"/>
<polygon points="84.3,142.2 91.4,145.7 97.3,145.8 90.2,142.3" fill="#58e30f"/>
<polygon points="219.7,190.8 227.4,195 232.1,193 224.4,188.7" fill="#0fdeff"/>
<polygon points="131.9,159.9 139.2,163.7 144.6,163.1 137.3,159.3" fill="#0ff034"/>
<polygon points="64,134.9 71.1,138.3 77.2,138.8 70.2,135.5" fill="#85db0f"/>
<polygon points="199.7,184.3 207.3,188.4 212.1,186.7 204.6,182.5" fill="#0ffff5"/>
<polygon points="111.7,152.9 119,156.5 124.6,156.3 117.3,152.7" fill="#1de90f"/>
<polygon points="179.6,177.6 187.1,181.5 192.1,180.2 184.6,176.2" fill="#0ffeb3"/>
<polygon points="159.4,170.7 166.9,174.6 172.1,173.6 164.7,169.7" fill="#0ff770"/>
<polygon points="91.4,145.7 98.6,149.1 104.5,149.3 97.3,145.8" fill="#52e10f"/>
<polygon points="227.4,195 235.1,199.3 239.8,197.2 232.1,193" fill="#0fd4ff"/>
<polygon points="139.2,163.7 146.6,167.4 152,166.9 144.6,163.1" fill="#0fef3a"/>
<polygon points="207.3,188.4 215,192.5 219.7,190.8 212.1,186.7" fill="#0ffffe"/>
<polygon points="71.1,138.3 78.2,141.6 84.3,142.2 77.2,138.8" fill="#81da0f"/>
<polygon points="187.1,181.5 194.7,185.6 199.7,184.3 192.1,180.2" fill="#0ffdbe"/>
<polygon points="119,156.5 126.3,160.1 131.9,159.9 124.6,156.3" fill="#17e80f"/>
<polygon points="166.9,174.6 174.4,178.5 179.6,177.6 172.1,173.6" fill="#0ff57a"/>
<polygon points="98.6,149.1 105.9,152.7 111.7,152.9 104.5,149.3" fill="#4ce00f"/>
<polygon points="215,192.5 222.7,196.7 227.4,195 219.7,190.8" fill="#0ff7ff"/>
<polygon points="146.6,167.4 154.1,171.3 159.4,170.7 152,166.9" fill="#0fee40"/>
<polygon points="78.2,141.6 85.4,145.1 91.4,145.7 84.3,142.2" fill="#7cd90f"/>
<polygon points="194.7,185.6 202.4,189.7 207.3,188.4 199.7,184.3" fill="#0ffcca"/>
<polygon points="126.3,160.1 133.7,163.8 139.2,163.7 131.9,159.9" fill="#11e60f"/>
<polygon points="174.4,178.5 182,182.5 187.1,181.5 179.6,177.6" fill="#0ff483"/>
<polygon points="105.9,152.7 113.2,156.3 119,156.5 111.7,152.9" fill="#46df0f"/>
<polygon points="222.7,196.7 230.5,201 235.1,199.3 227.4,195" fill="#0feeff"/>
<polygon points="154.1,171.3 161.6,175.1 166.9,174.6 159.4,170.7" fill="#0fec47"/>
<polygon points="202.4,189.7 210.1,193.8 215,192.5 207.3,188.4" fill="#0ffad6"/>
<polygon points="85.4,145.1 92.6,148.5 98.6,149.1 91.4,145.7" fill="#78d80f"/>
<polygon points="133.7,163.8 141.2,167.6 146.6,167.4 139.2,163.7" fill="#0fe514"/>
<polygon points="182,182.5 189.7,186.5 194.7,185.6 187.1,181.5" fill="#0ff38c"/>
<polygon points="113.2,156.3 120.6,159.9 126.3,160.1 119,156.5" fill="#40de0f"/>
<polygon points="161.6,175.1 169.2,179 174.4,178.5 166.9,174.6" fill="#0feb4d"/>
<polygon points="210.1,193.8 217.9,198 222.7,196.7 215,192.5" fill="#0ff9e1"/>
<polygon points="92.6,148.5 99.9,152 105.9,152.7 98.6,149.1" fill="#74d70f"/>
<polygon points="141.2,167.6 148.7,171.4 154.1,171.3 146.6,167.4" fill="#0fe41b"/>
<polygon points="189.7,186.5 197.4,190.6 202.4,189.7 194.7,185.6" fill="#0ff196"/>
<polygon points="120.6,159.9 128,163.6 133.7,163.8 126.3,160.1" fill="#3add0f"/>
<polygon points="169.2,179 176.9,183 182,182.5 174.4,178.5" fill="#0fea54"/>
<polygon points="217.9,198 225.7,202.3 230.5,201 222.7,196.7" fill="#0ff8ed"/>
<polygon points="99.9,152 107.3,155.6 113.2,156.3 105.9,152.7" fill="#70d50f"/>
<polygon points="148.7,171.4 156.2,175.3 161.6,175.1 154.1,171.3" fill="#0fe322"/>
<polygon points="197.4,190.6 205.2,194.7 210.1,193.8 202.4,189.7" fill="#0ff0a0"/>
<polygon points="128,163.6 135.5,167.3 141.2,167.6 133.7,163.8" fill="#34db0f"/>
<polygon points="176.9,183 184.6,187 189.7,186.5 182,182.5" fill="#0fe95c"/>
<polygon points="107.3,155.6 114.8,159.2 120.6,159.9 113.2,156.3" fill="#6bd40f"/>
<polygon points="156.2,175.3 163.9,179.2 169.2,179 161.6,175.1" fill="#0fe127"/>
<polygon points="205.2,194.7 213,198.9 217.9,198 210.1,193.8" fill="#0fefab"/>
<polygon points="135.5,167.3 143.1,171.1 148.7,171.4 141.2,167.6" fill="#2eda0f"/>
<polygon points="184.6,187 192.3,191.1 197.4,190.6 189.7,186.5" fill="#0fe865"/>
<polygon points="114.8,159.2 122.3,162.9 128,163.6 120.6,159.9" fill="#65d30f"/>
<polygon points="163.9,179.2 171.6,183.1 176.9,183 169.2,179" fill="#0fe02d"/>
<polygon points="213,198.9 220.9,203.2 225.7,202.3 217.9,198" fill="#0feeb6"/>
<polygon points="143.1,171.1 150.8,175 156.2,175.3 148.7,171.4" fill="#27d90f"/>
<polygon points="192.3,191.1 200.2,195.2 205.2,194.7 197.4,190.6" fill="#0fe66e"/>
<polygon points="171.6,183.1 179.4,187.1 184.6,187 176.9,183" fill="#0fdf34"/>
<polygon points="122.3,162.9 129.8,166.6 135.5,167.3 128,163.6" fill="#60d20f"/>
<polygon points="200.2,195.2 208.1,199.4 213,198.9 205.2,194.7" fill="#0fe577"/>
<polygon points="150.8,175 158.5,178.9 163.9,179.2 156.2,175.3" fill="#21d80f"/>
<polygon points="179.4,187.1 187.2,191.2 192.3,191.1 184.6,187" fill="#0fde3a"/>
<polygon points="129.8,166.6 137.4,170.4 143.1,171.1 135.5,167.3" fill="#5ad10f"/>
<polygon points="208.1,199.4 216,203.6 220.9,203.2 213,198.9" fill="#0fe480"/>
<polygon points="158.5,178.9 166.2,182.8 171.6,183.1 163.9,179.2" fill="#1bd70f"/>
<polygon points="187.2,191.2 195.1,195.3 200.2,195.2 192.3,191.1" fill="#0fdd40"/>
<polygon points="137.4,170.4 145.1,174.2 150.8,175 143.1,171.1" fill="#54d00f"/>
<polygon points="166.2,182.8 174,186.8 179.4,187.1 171.6,183.1" fill="#14d60f"/>
<polygon points="195.1,195.3 203,199.5 208.1,199.4 200.2,195.2" fill="#0fdb47"/>
<polygon points="145.1,174.2 152.9,178.1 158.5,178.9 150.8,175" fill="#4dcf0f"/>
<polygon points="174,186.8 181.9,190.9 187.2,191.2 179.4,187.1" fill="#0fd411"/>
<polygon points="203,199.5 211.1,203.7 216,203.6 208.1,199.4" fill="#0fda4d"/>
<polygon points="152.9,178.1 160.7,182 166.2,182.8 158.5,178.9" fill="#47cd0f"/>
<polygon points="181.9,190.9 189.9,195 195.1,195.3 187.2,191.2" fill="#0fd318"/>
<polygon points="160.7,182 168.6,186 174,186.8 166.2,182.8" fill="#41cc0f"/>
<polygon points="189.9,195 197.9,199.1 203,199.5 195.1,195.3" fill="#0fd21e"/>
<polygon points="168.6,186 176.6,190.1 181.9,190.9 174,186.8" fill="#3acb0f"/>
<polygon points="197.9,199.1 206,203.3 211.1,203.7 203,199.5" fill="#0fd124"/>
<polygon points="176.6,190.1 184.6,194.2 189.9,195 181.9,190.9" fill="#34ca0f"/>
<polygon points="184.6,194.2 192.7,198.3 197.9,199.1 189.9,195" fill="#2dc90f"/>
<polygon points="192.7,198.3 200.8,202.5 206,203.3 197.9,199.1" fill="#27c80f"/>
</g>
<circle cx="117.8" cy="163" r="2.9" fill="#f8c0c0" stroke="#8a6a6a" stroke-width="0.6"/>
<circle cx="250.4" cy="200.2" r="2.9" fill="#f8c0c0" stroke="#8a6a6a" stroke-width="0.6"/>
<line x1="101.8" y1="92.6" x2="101.8" y2="111" stroke="#1c1c1c" stroke-width="0.8"/>
<circle cx="101.8" cy="92.6" r="2.9" fill="#b00000" stroke="#5a0000" stroke-width="0.7"/>
<line x1="173.9" y1="120.2" x2="173.9" y2="147.3" stroke="#1c1c1c" stroke-width="0.8"/>
<circle cx="173.9" cy="120.2" r="2.9" fill="#b00000" stroke="#5a0000" stroke-width="0.7"/>
<line x1="222.9" y1="82.9" x2="222.9" y2="95" stroke="#1c1c1c" stroke-width="0.8"/>
<circle cx="222.9" cy="82.9" r="2.9" fill="#b00000" stroke="#5a0000" stroke-width="0.7"/>
<path d="M40.2,95L54.5,241" fill="none" stroke="#2a2a2a" stroke-width="0.8"/>
<path d="M54.5,241L198.2,311.7L290,212.8" fill="none" stroke="#161616" stroke-width="0.9" stroke-linejoin="round"/>
<circle cx="40.2" cy="95" r="1.35" fill="#000"/>
<circle cx="42.4" cy="117.5" r="1.35" fill="#000"/>
<circle cx="44.6" cy="139.9" r="1.35" fill="#000"/>
<circle cx="46.8" cy="162.4" r="1.35" fill="#000"/>
<circle cx="49" cy="184.8" r="1.35" fill="#000"/>
<circle cx="51.2" cy="207.3" r="1.35" fill="#000"/>
<circle cx="54.5" cy="241" r="1.35" fill="#000"/>
<circle cx="90.4" cy="258.7" r="1.35" fill="#000"/>
<circle cx="126.3" cy="276.4" r="1.35" fill="#000"/>
<circle cx="162.3" cy="294" r="1.35" fill="#000"/>
<circle cx="198.2" cy="311.7" r="1.35" fill="#000"/>
<circle cx="216.6" cy="291.9" r="1.35" fill="#000"/>
<circle cx="234.9" cy="272.1" r="1.35" fill="#000"/>
<circle cx="253.3" cy="252.4" r="1.35" fill="#000"/>
<circle cx="271.6" cy="232.6" r="1.35" fill="#000"/>
<circle cx="290" cy="212.8" r="1.35" fill="#000"/>
<polygon points="403.1,257.2 567.8,303.2 631.1,211.9 484,177.7" fill="#666"/>
<path d="M393.2,120L481.2,54.4L639.4,82.5M395,144.9L481.7,76.8L637.9,106M396.8,169.9L482.2,99.2L636.4,129.6M398.6,194.8L482.7,121.7L634.9,153.1M400.4,219.8L483.2,144.1L633.4,176.6M409.3,82.4L417,204.6M427.1,69.8L433.5,189.5M445,57.2L450.1,174.4M462.8,44.6L466.7,159.2M520.8,38.8L520.8,152.2M560.8,45.5L558.3,160.3M600.9,52.2L595.8,168.5" fill="none" stroke="#2a2a2a" stroke-width="0.7"/>
<path d="M391.4,95L480.7,32L640.9,59L631.1,211.9M480.7,32L484,177.7" fill="none" stroke="#222" stroke-width="0.8" stroke-linejoin="round"/>
<polyline points="624.6,221.4 623.8,221.9 622.9,222.5 622.1,223.1 621.6,223.4 621.3,223.7 620.4,224.3 619.6,224.9 618.7,225.5 618.5,225.6 617.9,226.1 617.1,226.7 616.3,227.3 615.5,227.9 615.3,228 614.6,228.5 613.8,229.1 613,229.7 612.2,230.4 611.9,230.6 611.4,231 610.6,231.6 609.8,232.2 609,232.9 608.3,233.5 608.3,233.5 607.5,234.2 606.7,234.8 605.9,235.4 605.2,236.1 604.4,236.7 604.4,236.7 603.7,237.4 602.9,238 602.2,238.7 601.4,239.4 600.7,240 600.1,240.6 600,240.7 599.3,241.4 598.5,242 597.8,242.7 597.1,243.4 596.4,244.1 595.7,244.8 595,245.5 594.9,245.6 594.4,246.2 593.7,246.9 593,247.6 592.3,248.3 591.7,249 591,249.7 590.4,250.4 589.7,251.1 589.1,251.8 588.5,252.6 587.9,253.3 587.2,254 587.2,254.1 586.6,254.8 586,255.5 585.4,256.3 584.8,257 584.3,257.8 583.7,258.5 583.1,259.3 582.6,260.1 582,260.8 581.4,261.6 580.9,262.4 580.4,263.2 579.8,264 579.3,264.8 578.8,265.5 578.3,266.3 577.8,267.1 577.8,267.2 577.3,268 576.8,268.8 576.4,269.6 575.9,270.4 575.4,271.2 575,272.1 574.5,272.9 574.1,273.7 573.7,274.6 573.2,275.4 572.8,276.3 572.6,276.8 572.4,277.2 572,278 571.6,278.9 571.2,279.8 570.8,280.6 570.5,281.5 570.1,282.4 569.9,283 569.7,283.3 569.4,284.2 569,285.1 568.7,286 568.4,286.9 568,287.8 568,288 567.7,288.7 567.4,289.7 567.1,290.6 566.8,291.5 566.5,292.5 566.5,292.5 566.3,293.4 566,294.4 565.7,295.3 565.5,296.3 565.4,296.6 565.2,297.2 565,298.2 564.7,299.2 564.5,300.2 564.4,300.4 564.3,301.2 564,302.1" fill="none" stroke="#2ade00" stroke-width="1.45" stroke-linecap="round" stroke-linejoin="round"/>
<polyline points="625.2,210.6 624.2,211.2 624,211.3 623.3,211.7 622.3,212.3 621.5,212.7 621.4,212.8 620.4,213.3 619.5,213.9 618.9,214.2 618.5,214.4 617.6,215 616.6,215.5 616.3,215.7 615.7,216.1 614.8,216.6 613.8,217.2 613.6,217.3 612.9,217.7 612,218.3 611.1,218.9 610.9,219 610.1,219.4 609.2,220 608.3,220.6 608.1,220.7 607.4,221.2 606.5,221.7 605.6,222.3 605.3,222.5 604.7,222.9 603.8,223.5 602.9,224.1 602.3,224.4 602,224.6 601.1,225.2 600.2,225.8 599.4,226.4 599.2,226.5 598.5,227 597.6,227.6 596.7,228.2 596.1,228.7 595.9,228.8 595,229.4 594.2,230.1 593.3,230.7 592.7,231.1 592.5,231.3 591.7,231.9 590.8,232.5 590,233.2 589.2,233.8 589.1,233.8 588.4,234.4 587.6,235.1 586.8,235.7 586,236.4 585.3,236.9 585.2,237 584.4,237.6 583.6,238.3 582.8,239 582.1,239.6 581.3,240.3 580.9,240.6 580.5,241 579.8,241.6 579.1,242.3 578.3,243 577.6,243.7 576.9,244.3 576.2,245 575.6,245.6 575.5,245.7 574.8,246.4 574.1,247.1 573.4,247.8 572.7,248.5 572,249.3 571.4,250 570.7,250.7 570.1,251.4 569.5,252.2 568.8,252.9 568.2,253.6 567.6,254.4 567,255.1 566.4,255.9 565.8,256.6 565.2,257.4 564.7,258.2 564.1,258.9 563.6,259.7 563,260.5 562.5,261.3 562,262.1 561.4,262.8 560.9,263.6 560.4,264.4 559.9,265.3 559.5,266.1 559,266.9 558.5,267.7 558.1,268.5 557.6,269.4 557.2,270.2 557.2,270.2 556.8,271 556.3,271.9 555.9,272.7 555.5,273.6 555.1,274.5 554.8,275.3 554.4,276.2 554.4,276.2 554,277.1 553.7,278 553.3,278.8 553,279.7 552.6,280.6 552.5,281 552.3,281.5 552,282.4 551.7,283.4 551.4,284.3 551.1,285.2 551.1,285.2 550.8,286.1 550.6,287.1 550.3,288 550.1,289 550,289 549.8,289.9 549.6,290.9 549.3,291.8 549.2,292.5 549.1,292.8 548.9,293.8 548.7,294.7 548.5,295.7 548.5,295.8 548.3,296.7 548.1,297.7" fill="none" stroke="#00e65a" stroke-width="1.45" stroke-linecap="round" stroke-linejoin="round"/>
<polyline points="404.1,256.1 404.8,255.7 406,255 407.1,254.4 408.2,253.7 408.2,253.6 409.2,253 410.3,252.4 411.4,251.7 412.4,251 412.7,250.8 413.4,250.4 414.5,249.7 415.5,249 416.5,248.3 417.5,247.7 417.7,247.5 418.4,247 419.4,246.3 420.3,245.6 421.3,245 422.2,244.3 423.1,243.6 423.7,243.1 424,242.9 424.9,242.2 425.8,241.5 426.6,240.9 427.5,240.2 428.3,239.5 429.1,238.8 429.9,238.1 430.7,237.4 431.5,236.7 432.2,236 433,235.3 433.7,234.6 434.4,233.9 435.1,233.2 435.8,232.5 436.5,231.8 437.1,231 437.8,230.3 438.4,229.6 439,228.9 439.6,228.2 440.2,227.5 440.8,226.7 441.3,226 441.9,225.3 442.4,224.6 442.4,224.5 442.9,223.8 443.4,223.1 443.9,222.4 444.4,221.7 444.9,220.9 445.3,220.2 445.4,220 445.8,219.5 446.2,218.7 446.6,218 447,217.3 447.4,216.6 447.4,216.5 447.8,215.8 448.2,215.1 448.5,214.3 448.8,213.7 448.9,213.6 449.2,212.8 449.5,212.1 449.8,211.3 449.9,211.1" fill="none" stroke="#00ebb4" stroke-width="1.45" stroke-linecap="round" stroke-linejoin="round"/>
<polyline points="612,207.6 611.4,207.9 611,208.1 609.9,208.6 609,209 608.9,209.1 607.8,209.6 606.8,210.1 606.7,210.2 605.7,210.6 604.7,211.2 604.3,211.4 603.6,211.7 602.6,212.2 601.8,212.6 601.5,212.7 600.5,213.2 599.5,213.8 599.4,213.8 598.4,214.3 597.4,214.8 596.9,215.1 596.4,215.4 595.3,215.9 594.4,216.4 594.3,216.4 593.3,217 592.3,217.5 591.8,217.8 591.3,218.1 590.2,218.6 589.2,219.2 589.2,219.2 588.2,219.7 587.2,220.3 586.6,220.6 586.2,220.8 585.2,221.4 584.2,221.9 583.9,222.1 583.2,222.5 582.3,223.1 581.3,223.6 581.1,223.7 580.3,224.2 579.3,224.8 578.4,225.4 578.3,225.4 577.4,225.9 576.4,226.5 575.5,227.1 575.4,227.2 574.5,227.7 573.6,228.3 572.6,228.9 572.3,229.1 571.7,229.5 570.8,230.1 569.9,230.7 569.1,231.2 569,231.3 568,231.9 567.1,232.5 566.2,233.1 565.8,233.5 565.4,233.7 564.5,234.4 563.6,235 562.7,235.6 562.2,236.1 561.9,236.3 561,236.9 560.2,237.5 559.4,238.2 558.5,238.8 558.1,239.2 557.7,239.5 556.9,240.2 556.1,240.8 555.3,241.5 554.6,242.2 553.8,242.8 553.3,243.3 553,243.5 552.3,244.2 551.5,244.9 550.8,245.6 550.1,246.3 549.4,247 548.7,247.7 548,248.4 547.3,249.1 546.7,249.9 546,250.6 545.4,251.3 544.8,252.1 544.2,252.8 543.7,253.3 543.6,253.6 543.4,253.7 543,254.3 542.4,255.1 541.8,255.9 541.3,256.6 540.7,257.4 540.2,258.2 539.7,259 539.2,259.8 538.7,260.6 538.2,261.4 537.7,262.2 537.3,263 536.9,263.8 536.4,264.7 536.4,264.7 536,265.5 535.6,266.3 535.2,267.2 534.8,268.1 534.5,268.9 534.2,269.7 534.1,269.8 533.8,270.6 533.4,271.5 533.1,272.4 532.8,273.3 532.7,273.7 532.5,274.2 532.2,275.1 532,276 531.7,276.9 531.6,277.2 531.4,277.8 531.2,278.8 531,279.7 530.8,280.4 530.8,280.6 530.5,281.6 530.3,282.5 530.2,283.5 530.2,283.5 530,284.4 529.8,285.4 529.7,286.3 529.7,286.4 529.5,287.3 529.4,288.3 529.3,289.1 529.2,289.3 529.1,290.3 529,291.3 529,291.7 528.9,292.3" fill="none" stroke="#00ebb4" stroke-width="1.45" stroke-linecap="round" stroke-linejoin="round"/>
<polyline points="427.3,263.9 427.8,263.7 428.8,263.3 430.2,262.7 430.6,262.6 431.6,262.2 433,261.6 433.4,261.4 434.4,261 435.8,260.4 436.1,260.2 437.2,259.8 438.6,259.2 438.9,259 439.9,258.6 441.3,258 441.7,257.8 442.6,257.4 444,256.8 444.6,256.5 445.3,256.2 446.6,255.6 447.5,255.2 447.9,255 449.2,254.4 450.4,253.9 450.5,253.8 451.7,253.2 453,252.6 453.4,252.4 454.2,252 455.4,251.4 456.5,250.8 456.6,250.8 457.8,250.2 458.9,249.5 459.8,249.1 460.1,248.9 461.2,248.3 462.2,247.6 463.3,247 463.4,246.9 464.3,246.4 465.3,245.7 466.2,245 467.1,244.4 468,243.7 468,243.7 468.9,243 469.7,242.3 470.4,241.6 471.1,240.9 471.8,240.2 472.4,239.4 473,238.7 473.5,238 473.9,237.3 474,237.2 474.5,236.4 474.9,235.7 475.3,234.9 475.6,234.1 475.8,233.7 475.9,233.3 476.2,232.5 476.4,231.7 476.5,231.2 476.6,230.8 476.8,230 476.9,229.2 477,229 477.1,228.4 477.2,227.5 477.2,227.1 477.3,226.7 477.3,225.9 477.4,225.3 477.4,225 477.4,224.2 477.4,223.6 477.4,223.4 477.4,222.5 477.4,222 477.4,221.7 477.4,220.8 477.4,220.4 477.4,220 477.3,219.1 477.3,218.9 477.3,218.3 477.2,217.4 477.2,217.4 477.1,216.6 477.1,215.9 477.1,215.8 477,214.9 476.9,214.5 476.9,214.1 476.8,213.2 476.8,213.1 476.7,212.4 476.6,211.7 476.6,211.6 476.5,210.7 476.4,210.3 476.4,209.9 476.3,209.1 476.3,208.9 476.2,208.2 476.1,207.6 476,207.4 475.9,206.6 475.9,206.3 475.8,205.7 475.6,204.9 475.6,204.9 475.5,204.1 475.4,203.6 475.4,203.3 475.2,202.4 475.2,202.3 475.1,201.6 475,201.1 475,200.8 474.8,200 474.8,199.8 474.7,199.2 474.5,198.5 474.5,198.4 474.4,197.6 474.3,197.3 474.2,196.8 474.1,196 474.1,196 473.9,195.1 473.9,194.8 473.8,194.3 473.6,193.6 473.6,193.5 473.5,192.8 473.4,192.3 473.3,192 473.2,191.2 473.1,191.1 473,190.4 472.9,189.9 472.8,189.6 472.7,188.8 472.7,188.7" fill="none" stroke="#00d4ea" stroke-width="1.45" stroke-linecap="round" stroke-linejoin="round"/>
<polyline points="596.5,203.9 596.2,204.1 595.3,204.4 594.1,204.9 594.1,204.9 592.9,205.3 591.9,205.7 591.7,205.8 590.5,206.3 589.8,206.6 589.3,206.8 588,207.2 587.6,207.4 586.8,207.7 585.6,208.2 585.5,208.2 584.4,208.7 583.3,209.1 583.2,209.1 581.9,209.6 581.1,209.9 580.7,210.1 579.5,210.6 578.9,210.8 578.3,211 577,211.5 576.7,211.6 575.8,212 574.6,212.5 574.5,212.5 573.4,213 572.3,213.4 572.1,213.5 570.9,214 570.1,214.3 569.7,214.4 568.4,214.9 567.9,215.2 567.2,215.4 565.9,215.9 565.6,216.1 564.7,216.4 563.5,216.9 563.4,216.9 562.2,217.4 561.1,217.9 561,217.9 559.8,218.4 558.8,218.8 558.5,218.9 557.3,219.4 556.5,219.7 556,219.9 554.8,220.4 554.2,220.6 553.6,220.9 552.3,221.4 551.9,221.6 551.1,221.9 549.8,222.4 549.6,222.5 548.6,222.9 547.4,223.5 547.2,223.5 546.1,224 544.9,224.5 544.8,224.5 543.7,225 542.4,225.5 542.4,225.5 541.2,226 540,226.5 540,226.6 538.7,227.1 537.6,227.6 537.5,227.6 536.3,228.1 535.1,228.7 535.1,228.7 533.9,229.2 532.7,229.8 532.6,229.8 531.5,230.3 530.3,230.8 530.1,230.9 529.1,231.4 527.9,231.9 527.5,232.1 526.7,232.5 525.5,233.1 524.9,233.4 524.4,233.6 523.2,234.2 522.1,234.7 522.1,234.8 521,235.3 519.9,235.9 519.3,236.2 518.8,236.5 517.7,237.1 516.6,237.7 516.3,237.9 515.6,238.3 514.5,238.9 513.5,239.5 513,239.9 512.6,240.1 511.6,240.8 510.7,241.4 509.8,242.1 508.9,242.7 508.8,242.8 508.1,243.4 507.3,244.1 506.5,244.8 505.8,245.5 505.2,246.2 504.5,247 503.9,247.7 503.4,248.5 502.9,249.3 502.4,250.1 502.1,250.6 502,250.9 501.6,251.7 501.2,252.5 500.9,253.4 500.7,254.1 500.7,254.2 500.4,255.1 500.2,255.9 500.1,256.8 500,256.8 499.9,257.7 499.8,258.6 499.7,259.1 499.7,259.6 499.6,260.5 499.6,261.2 499.5,261.4 499.5,262.4 499.5,263.2 499.5,263.3 499.5,264.3 499.5,265.1 499.5,265.2 499.5,266.2 499.6,267 499.6,267.2 499.6,268.2 499.7,268.9 499.7,269.2 499.8,270.2 499.9,270.7 499.9,271.2 500,272.2 500,272.5 500.1,273.2 500.2,274.2 500.2,274.2 500.4,275.3 500.5,276 500.5,276.3 500.6,277.3 500.7,277.7 500.8,278.4 500.9,279.4 501,279.5 501.1,280.5 501.2,281.2 501.3,281.5 501.4,282.6 501.5,282.9 501.6,283.7 501.8,284.7 501.8,284.7" fill="none" stroke="#00d4ea" stroke-width="1.45" stroke-linecap="round" stroke-linejoin="round"/>
<polyline points="576.5,199.3 576.1,199.4 575,199.6 574.2,199.8 573.4,200 572.4,200.3 571.8,200.4 570.5,200.7 570.2,200.8 568.7,201.1 568.6,201.1 567,201.5 566.9,201.5 565.3,201.9 565.1,201.9 563.6,202.2 563.3,202.3 561.9,202.6 561.5,202.6 560.1,202.9 559.7,203 558.3,203.2 557.9,203.3 556.5,203.6 556.2,203.6 554.7,203.9 554.4,203.9 552.8,204.2 552.7,204.2 551,204.5 550.8,204.5 549.3,204.7 548.8,204.8 547.6,204.9 546.7,205 545.9,205.1 544.5,205.3 544.3,205.3 542.6,205.4 542.1,205.5 541,205.6 539.7,205.7 539.4,205.7 537.9,205.8 537,205.8 536.3,205.8 534.8,205.9 534.1,205.9 533.3,205.9 531.8,205.8 530.6,205.8 530.3,205.8 528.9,205.7 527.5,205.6 526.1,205.5 526.1,205.5 524.7,205.3 523.4,205.1 522.1,204.9 520.8,204.7 519.6,204.4 518.3,204.1 517.1,203.8 516,203.4 514.8,203.1 513.7,202.7 512.6,202.2 512.6,202.2 511.5,201.8 510.5,201.3 509.5,200.8 509.2,200.6 508.5,200.2 507.5,199.7 506.9,199.3 506.6,199.1 505.6,198.5 505,198.1 504.7,197.9 503.9,197.3 503.4,196.9 503,196.6 502.2,196 502,195.8 501.3,195.3 500.8,194.8 500.5,194.6 499.8,193.9 499.7,193.8 499,193.1 498.6,192.8 498.2,192.4 497.7,191.8 497.5,191.6 496.8,190.9 496.8,190.8 496.1,190.1 495.9,189.9 495.4,189.3 495.1,189 494.7,188.5 494.4,188 494.1,187.7 493.7,187.1 493.4,186.8 493,186.2 492.8,186 492.3,185.3 492.2,185.2 491.7,184.5 491.6,184.3 491.1,183.6 491,183.5 490.5,182.7 490.4,182.6 489.9,181.9 489.8,181.7 489.4,181 489.3,180.9 488.9,180.2 488.7,180 488.3,179.3 488.2,179.1 487.8,178.5" fill="none" stroke="#00a8f0" stroke-width="1.45" stroke-linecap="round" stroke-linejoin="round"/>
<line x1="480.7" y1="217.3" x2="480.7" y2="213" stroke="#333" stroke-width="0.7"/>
<circle cx="480.7" cy="217.3" r="2.9" fill="#f8c0c0" stroke="#8a6a6a" stroke-width="0.6"/>
<g stroke="#07140c" stroke-opacity="0.72" stroke-width="0.55" stroke-linejoin="round">
<polygon points="479.3,126.6 485.9,130.3 489.4,129.2 482.8,125.5" fill="#0fbbff"/>
<polygon points="485.9,130.3 492.4,133.8 495.9,132.7 489.4,129.2" fill="#0faaff"/>
<polygon points="492.4,133.8 499,136.9 502.4,135.7 495.9,132.7" fill="#0f9fff"/>
<polygon points="499,136.9 505.7,139.7 509,138.5 502.4,135.7" fill="#0f97ff"/>
<polygon points="475.7,127.7 482.3,131.6 485.9,130.3 479.3,126.6" fill="#0fcdff"/>
<polygon points="505.7,139.7 512.3,142.1 515.6,140.9 509,138.5" fill="#0f92ff"/>
<polygon points="482.3,131.6 489,135.1 492.4,133.8 485.9,130.3" fill="#0fb9ff"/>
<polygon points="512.3,142.1 519,144.2 522.3,143 515.6,140.9" fill="#0f90ff"/>
<polygon points="489,135.1 495.6,138.2 499,136.9 492.4,133.8" fill="#0faaff"/>
<polygon points="519,144.2 525.7,146 528.9,144.7 522.3,143" fill="#1090ff"/>
<polygon points="495.6,138.2 502.3,141 505.7,139.7 499,136.9" fill="#0fa2ff"/>
<polygon points="472.1,129.1 478.7,132.9 482.3,131.6 475.7,127.7" fill="#0fdeff"/>
<polygon points="502.3,141 509,143.5 512.3,142.1 505.7,139.7" fill="#119cff"/>
<polygon points="525.7,146 532.5,147.5 535.7,146.1 528.9,144.7" fill="#1190ff"/>
<polygon points="478.7,132.9 485.4,136.5 489,135.1 482.3,131.6" fill="#0fc9ff"/>
<polygon points="509,143.5 515.7,145.7 519,144.2 512.3,142.1" fill="#1398ff"/>
<polygon points="485.4,136.5 492.1,139.7 495.6,138.2 489,135.1" fill="#10b9ff"/>
<polygon points="532.5,147.5 539.3,148.6 542.4,147.2 535.7,146.1" fill="#1190ff"/>
<polygon points="515.7,145.7 522.4,147.5 525.7,146 519,144.2" fill="#1496ff"/>
<polygon points="492.1,139.7 498.8,142.5 502.3,141 495.6,138.2" fill="#13adff"/>
<polygon points="539.3,148.6 546.1,149.3 549.2,147.9 542.4,147.2" fill="#1091ff"/>
<polygon points="468.4,130.6 475.1,134.5 478.7,132.9 472.1,129.1" fill="#0ff0ff"/>
<polygon points="498.8,142.5 505.5,145.1 509,143.5 502.3,141" fill="#15a7ff"/>
<polygon points="522.4,147.5 529.2,148.9 532.5,147.5 525.7,146" fill="#1596ff"/>
<polygon points="475.1,134.5 481.8,138.1 485.4,136.5 478.7,132.9" fill="#10d9ff"/>
<polygon points="505.5,145.1 512.3,147.2 515.7,145.7 509,143.5" fill="#17a3ff"/>
<polygon points="546.1,149.3 553,149.7 556.1,148.3 549.2,147.9" fill="#0f93ff"/>
<polygon points="481.8,138.1 488.5,141.3 492.1,139.7 485.4,136.5" fill="#14c8ff"/>
<polygon points="529.2,148.9 536.1,150.1 539.3,148.6 532.5,147.5" fill="#1596ff"/>
<polygon points="512.3,147.2 519.1,149.1 522.4,147.5 515.7,145.7" fill="#18a1ff"/>
<polygon points="488.5,141.3 495.3,144.2 498.8,142.5 492.1,139.7" fill="#17bcff"/>
<polygon points="553,149.7 560,149.8 563,148.4 556.1,148.3" fill="#0f98ff"/>
<polygon points="536.1,150.1 543,150.9 546.1,149.3 539.3,148.6" fill="#1599ff"/>
<polygon points="464.7,132.2 471.4,136.2 475.1,134.5 468.4,130.6" fill="#10fffc"/>
<polygon points="495.3,144.2 502.1,146.8 505.5,145.1 498.8,142.5" fill="#19b2ff"/>
<polygon points="519.1,149.1 525.9,150.6 529.2,148.9 522.4,147.5" fill="#19a0ff"/>
<polygon points="471.4,136.2 478.2,139.8 481.8,138.1 475.1,134.5" fill="#14e9ff"/>
<polygon points="502.1,146.8 508.9,149 512.3,147.2 505.5,145.1" fill="#1badff"/>
<polygon points="560,149.8 567,149.5 570,148.1 563,148.4" fill="#0fa1ff"/>
<polygon points="543,150.9 549.9,151.3 553,149.7 546.1,149.3" fill="#149dff"/>
<polygon points="478.2,139.8 484.9,143.1 488.5,141.3 481.8,138.1" fill="#17d7ff"/>
<polygon points="525.9,150.6 532.8,151.7 536.1,150.1 529.2,148.9" fill="#19a1ff"/>
<polygon points="508.9,149 515.7,150.9 519.1,149.1 512.3,147.2" fill="#1dabff"/>
<polygon points="484.9,143.1 491.7,146 495.3,144.2 488.5,141.3" fill="#1bc9ff"/>
<polygon points="549.9,151.3 556.9,151.4 560,149.8 553,149.7" fill="#12a3ff"/>
<polygon points="567,149.5 574.1,148.9 577,147.4 570,148.1" fill="#0fabff"/>
<polygon points="532.8,151.7 539.8,152.6 543,150.9 536.1,150.1" fill="#19a4ff"/>
<polygon points="460.9,134.1 467.7,138.1 471.4,136.2 464.7,132.2" fill="#14ffe5"/>
<polygon points="491.7,146 498.6,148.6 502.1,146.8 495.3,144.2" fill="#1dc0ff"/>
<polygon points="515.7,150.9 522.6,152.4 525.9,150.6 519.1,149.1" fill="#1daaff"/>
<polygon points="467.7,138.1 474.5,141.7 478.2,139.8 471.4,136.2" fill="#18f8ff"/>
<polygon points="498.6,148.6 505.4,150.9 508.9,149 502.1,146.8" fill="#1fb9ff"/>
<polygon points="556.9,151.4 564,151.1 567,149.5 560,149.8" fill="#10abff"/>
<polygon points="539.8,152.6 546.7,153 549.9,151.3 543,150.9" fill="#18a8ff"/>
<polygon points="474.5,141.7 481.3,145 484.9,143.1 478.2,139.8" fill="#1be4ff"/>
<polygon points="574.1,148.9 581.2,147.9 584.1,146.4 577,147.4" fill="#0fbeff"/>
<polygon points="522.6,152.4 529.5,153.6 532.8,151.7 525.9,150.6" fill="#1eabff"/>
<polygon points="505.4,150.9 512.3,152.8 515.7,150.9 508.9,149" fill="#21b5ff"/>
<polygon points="481.3,145 488.1,148 491.7,146 484.9,143.1" fill="#1ed6ff"/>
<polygon points="546.7,153 553.8,153.1 556.9,151.4 549.9,151.3" fill="#16adff"/>
<polygon points="564,151.1 571.1,150.5 574.1,148.9 567,149.5" fill="#0fbaff"/>
<polygon points="529.5,153.6 536.5,154.4 539.8,152.6 532.8,151.7" fill="#1dadff"/>
<polygon points="457,136 463.9,140.1 467.7,138.1 460.9,134.1" fill="#17ffd5"/>
<polygon points="488.1,148 495,150.7 498.6,148.6 491.7,146" fill="#21ccff"/>
<polygon points="581.2,147.9 588.5,146.5 591.3,145 584.1,146.4" fill="#0fd6ff"/>
<polygon points="512.3,152.8 519.2,154.4 522.6,152.4 515.7,150.9" fill="#21b4ff"/>
<polygon points="463.9,140.1 470.7,143.8 474.5,141.7 467.7,138.1" fill="#1bfff6"/>
<polygon points="495,150.7 501.9,153 505.4,150.9 498.6,148.6" fill="#23c5ff"/>
<polygon points="536.5,154.4 543.5,154.9 546.7,153 539.8,152.6" fill="#1cb2ff"/>
<polygon points="553.8,153.1 560.9,152.9 564,151.1 556.9,151.4" fill="#14b9ff"/>
<polygon points="470.7,143.8 477.6,147.2 481.3,145 474.5,141.7" fill="#1ff1ff"/>
<polygon points="519.2,154.4 526.2,155.6 529.5,153.6 522.6,152.4" fill="#22b5ff"/>
<polygon points="571.1,150.5 578.3,149.5 581.2,147.9 574.1,148.9" fill="#0fceff"/>
<polygon points="477.6,147.2 484.5,150.2 488.1,148 481.3,145" fill="#22e2ff"/>
<polygon points="501.9,153 508.8,154.9 512.3,152.8 505.4,150.9" fill="#25c1ff"/>
<polygon points="588.5,146.5 595.8,144.8 598.6,143.3 591.3,145" fill="#0ff4ff"/>
<polygon points="543.5,154.9 550.6,155.1 553.8,153.1 546.7,153" fill="#1abbff"/>
<polygon points="453.2,138.2 460,142.3 463.9,140.1 457,136" fill="#1bffc9"/>
<polygon points="526.2,155.6 533.2,156.5 536.5,154.4 529.5,153.6" fill="#21b9ff"/>
<polygon points="560.9,152.9 568,152.3 571.1,150.5 564,151.1" fill="#12c9ff"/>
<polygon points="484.5,150.2 491.4,152.9 495,150.7 488.1,148" fill="#25d7ff"/>
<polygon points="508.8,154.9 515.8,156.5 519.2,154.4 512.3,152.8" fill="#26c0ff"/>
<polygon points="578.3,149.5 585.6,148.2 588.5,146.5 581.2,147.9" fill="#0fe7ff"/>
<polygon points="460,142.3 466.9,146.1 470.7,143.8 463.9,140.1" fill="#1fffe4"/>
<polygon points="491.4,152.9 498.3,155.2 501.9,153 495,150.7" fill="#27d0ff"/>
<polygon points="595.8,144.8 603.2,142.7 605.9,141.2 598.6,143.3" fill="#0fffdb"/>
<polygon points="466.9,146.1 473.8,149.5 477.6,147.2 470.7,143.8" fill="#23fdff"/>
<polygon points="533.2,156.5 540.3,157 543.5,154.9 536.5,154.4" fill="#20bfff"/>
<polygon points="550.6,155.1 557.7,154.8 560.9,152.9 553.8,153.1" fill="#18c7ff"/>
<polygon points="515.8,156.5 522.8,157.8 526.2,155.6 519.2,154.4" fill="#26c1ff"/>
<polygon points="568,152.3 575.3,151.3 578.3,149.5 571.1,150.5" fill="#0fdeff"/>
<polygon points="473.8,149.5 480.8,152.5 484.5,150.2 477.6,147.2" fill="#26edff"/>
<polygon points="498.3,155.2 505.3,157.2 508.8,154.9 501.9,153" fill="#29cbff"/>
<polygon points="585.6,148.2 592.9,146.4 595.8,144.8 588.5,146.5" fill="#0ffff4"/>
<polygon points="540.3,157 547.4,157.1 550.6,155.1 543.5,154.9" fill="#1ec8ff"/>
<polygon points="449.2,140.5 456.1,144.7 460,142.3 453.2,138.2" fill="#1effc0"/>
<polygon points="522.8,157.8 529.8,158.7 533.2,156.5 526.2,155.6" fill="#25c4ff"/>
<polygon points="557.7,154.8 565,154.2 568,152.3 560.9,152.9" fill="#16d8ff"/>
<polygon points="480.8,152.5 487.7,155.2 491.4,152.9 484.5,150.2" fill="#29e2ff"/>
<polygon points="603.2,142.7 610.7,140.2 613.4,138.7 605.9,141.2" fill="#0fffb4"/>
<polygon points="505.3,157.2 512.3,158.8 515.8,156.5 508.8,154.9" fill="#2acaff"/>
<polygon points="456.1,144.7 463.1,148.5 466.9,146.1 460,142.3" fill="#22ffd8"/>
<polygon points="575.3,151.3 582.6,150 585.6,148.2 578.3,149.5" fill="#0ff8ff"/>
<polygon points="487.7,155.2 494.7,157.6 498.3,155.2 491.4,152.9" fill="#2bdaff"/>
<polygon points="463.1,148.5 470,151.9 473.8,149.5 466.9,146.1" fill="#26fff3"/>
<polygon points="592.9,146.4 600.4,144.3 603.2,142.7 595.8,144.8" fill="#0fffc8"/>
<polygon points="529.8,158.7 536.9,159.2 540.3,157 533.2,156.5" fill="#24caff"/>
<polygon points="547.4,157.1 554.6,156.9 557.7,154.8 550.6,155.1" fill="#1cd5ff"/>
<polygon points="512.3,158.8 519.3,160.1 522.8,157.8 515.8,156.5" fill="#2acbff"/>
<polygon points="565,154.2 572.2,153.3 575.3,151.3 568,152.3" fill="#13edff"/>
<polygon points="470,151.9 477,155 480.8,152.5 473.8,149.5" fill="#2af7ff"/>
<polygon points="494.7,157.6 501.7,159.6 505.3,157.2 498.3,155.2" fill="#2dd5ff"/>
<polygon points="582.6,150 590,148.3 592.9,146.4 585.6,148.2" fill="#0fffda"/>
<polygon points="610.7,140.2 618.3,137.3 620.9,135.8 613.4,138.7" fill="#0fff8e"/>
<polygon points="445.2,143 452.2,147.2 456.1,144.7 449.2,140.5" fill="#21ffb9"/>
<polygon points="536.9,159.2 544.1,159.4 547.4,157.1 540.3,157" fill="#23d4ff"/>
<polygon points="519.3,160.1 526.4,161 529.8,158.7 522.8,157.8" fill="#29ceff"/>
<polygon points="477,155 484,157.8 487.7,155.2 480.8,152.5" fill="#2cebff"/>
<polygon points="554.6,156.9 561.8,156.4 565,154.2 557.7,154.8" fill="#1ae5ff"/>
<polygon points="501.7,159.6 508.7,161.3 512.3,158.8 505.3,157.2" fill="#2dd3ff"/>
<polygon points="600.4,144.3 607.9,141.8 610.7,140.2 603.2,142.7" fill="#0fffa6"/>
<polygon points="452.2,147.2 459.2,151.1 463.1,148.5 456.1,144.7" fill="#26ffd0"/>
<polygon points="572.2,153.3 579.6,152 582.6,150 575.3,151.3" fill="#0ffff1"/>
<polygon points="484,157.8 491,160.2 494.7,157.6 487.7,155.2" fill="#2fe3ff"/>
<polygon points="459.2,151.1 466.2,154.6 470,151.9 463.1,148.5" fill="#2affe7"/>
<polygon points="526.4,161 533.6,161.6 536.9,159.2 529.8,158.7" fill="#28d5ff"/>
<polygon points="590,148.3 597.5,146.2 600.4,144.3 592.9,146.4" fill="#0fffb7"/>
<polygon points="544.1,159.4 551.3,159.2 554.6,156.9 547.4,157.1" fill="#20e1ff"/>
<polygon points="508.7,161.3 515.8,162.6 519.3,160.1 512.3,158.8" fill="#2ed4ff"/>
<polygon points="618.3,137.3 626,134 628.6,132.5 620.9,135.8" fill="#0fff59"/>
<polygon points="561.8,156.4 569.1,155.4 572.2,153.3 565,154.2" fill="#16fcff"/>
<polygon points="466.2,154.6 473.2,157.7 477,155 470,151.9" fill="#2dffff"/>
<polygon points="491,160.2 498.1,162.3 501.7,159.6 494.7,157.6" fill="#30deff"/>
<polygon points="579.6,152 587,150.3 590,148.3 582.6,150" fill="#0fffca"/>
<polygon points="607.9,141.8 615.5,138.9 618.3,137.3 610.7,140.2" fill="#0fff79"/>
<polygon points="441.2,145.7 448.2,149.9 452.2,147.2 445.2,143" fill="#25ffb4"/>
<polygon points="533.6,161.6 540.8,161.8 544.1,159.4 536.9,159.2" fill="#27deff"/>
<polygon points="515.8,162.6 523,163.6 526.4,161 519.3,160.1" fill="#2dd8ff"/>
<polygon points="473.2,157.7 480.2,160.5 484,157.8 477,155" fill="#30f3ff"/>
<polygon points="551.3,159.2 558.6,158.7 561.8,156.4 554.6,156.9" fill="#1df2ff"/>
<polygon points="498.1,162.3 505.1,164 508.7,161.3 501.7,159.6" fill="#31dcff"/>
<polygon points="448.2,149.9 455.2,153.8 459.2,151.1 452.2,147.2" fill="#29ffc9"/>
<polygon points="597.5,146.2 605.1,143.7 607.9,141.8 600.4,144.3" fill="#0fff97"/>
<polygon points="569.1,155.4 576.5,154.1 579.6,152 572.2,153.3" fill="#13ffdb"/>
<polygon points="480.2,160.5 487.3,163 491,160.2 484,157.8" fill="#33eaff"/>
<polygon points="626,134 633.8,130.3 636.4,128.8 628.6,132.5" fill="#0ffc26"/>
<polygon points="455.2,153.8 462.2,157.4 466.2,154.6 459.2,151.1" fill="#2dffdd"/>
<polygon points="523,163.6 530.2,164.2 533.6,161.6 526.4,161" fill="#2cdeff"/>
<polygon points="540.8,161.8 548,161.7 551.3,159.2 544.1,159.4" fill="#24ebff"/>
<polygon points="587,150.3 594.6,148.2 597.5,146.2 590,148.3" fill="#0fffaa"/>
<polygon points="505.1,164 512.3,165.3 515.8,162.6 508.7,161.3" fill="#32ddff"/>
<polygon points="615.5,138.9 623.3,135.6 626,134 618.3,137.3" fill="#0fff47"/>
<polygon points="558.6,158.7 566,157.7 569.1,155.4 561.8,156.4" fill="#1afff1"/>
<polygon points="462.2,157.4 469.3,160.6 473.2,157.7 466.2,154.6" fill="#31fff4"/>
<polygon points="487.3,163 494.4,165.1 498.1,162.3 491,160.2" fill="#34e5ff"/>
<polygon points="576.5,154.1 584,152.4 587,150.3 579.6,152" fill="#0fffbb"/>
<polygon points="437.1,148.6 444.1,152.9 448.2,149.9 441.2,145.7" fill="#28ffb0"/>
<polygon points="605.1,143.7 612.8,140.8 615.5,138.9 607.9,141.8" fill="#0fff66"/>
<polygon points="530.2,164.2 537.4,164.4 540.8,161.8 533.6,161.6" fill="#2ae8ff"/>
<polygon points="512.3,165.3 519.5,166.3 523,163.6 515.8,162.6" fill="#31e0ff"/>
<polygon points="469.3,160.6 476.4,163.4 480.2,160.5 473.2,157.7" fill="#34faff"/>
<polygon points="548,161.7 555.4,161.1 558.6,158.7 551.3,159.2" fill="#21feff"/>
<polygon points="494.4,165.1 501.5,166.8 505.1,164 498.1,162.3" fill="#35e3ff"/>
<polygon points="444.1,152.9 451.2,156.8 455.2,153.8 448.2,149.9" fill="#2cffc4"/>
<polygon points="594.6,148.2 602.2,145.7 605.1,143.7 597.5,146.2" fill="#0fff85"/>
<polygon points="566,157.7 573.4,156.4 576.5,154.1 569.1,155.4" fill="#17ffcf"/>
<polygon points="476.4,163.4 483.5,165.9 487.3,163 480.2,160.5" fill="#36f1ff"/>
<polygon points="451.2,156.8 458.3,160.4 462.2,157.4 455.2,153.8" fill="#31ffd8"/>
<polygon points="623.3,135.6 631.2,131.9 633.8,130.3 626,134" fill="#0fff12"/>
<polygon points="519.5,166.3 526.7,166.9 530.2,164.2 523,163.6" fill="#30e6ff"/>
<polygon points="537.4,164.4 544.7,164.3 548,161.7 540.8,161.8" fill="#28f6ff"/>
<polygon points="501.5,166.8 508.7,168.2 512.3,165.3 505.1,164" fill="#35e4ff"/>
<polygon points="584,152.4 591.6,150.3 594.6,148.2 587,150.3" fill="#0fff9f"/>
<polygon points="458.3,160.4 465.4,163.6 469.3,160.6 462.2,157.4" fill="#34ffec"/>
<polygon points="555.4,161.1 562.8,160.2 566,157.7 558.6,158.7" fill="#1effe0"/>
<polygon points="612.8,140.8 620.6,137.5 623.3,135.6 615.5,138.9" fill="#0fff36"/>
<polygon points="483.5,165.9 490.6,168.1 494.4,165.1 487.3,163" fill="#38ebff"/>
<polygon points="432.9,151.6 440,156 444.1,152.9 437.1,148.6" fill="#2bffad"/>
<polygon points="573.4,156.4 581,154.8 584,152.4 576.5,154.1" fill="#13ffb1"/>
<polygon points="465.4,163.6 472.5,166.5 476.4,163.4 469.3,160.6" fill="#37ffff"/>
<polygon points="602.2,145.7 609.9,142.8 612.8,140.8 605.1,143.7" fill="#0fff55"/>
<polygon points="526.7,166.9 534,167.2 537.4,164.4 530.2,164.2" fill="#2ef0ff"/>
<polygon points="508.7,168.2 515.9,169.2 519.5,166.3 512.3,165.3" fill="#35e7ff"/>
<polygon points="544.7,164.3 552.1,163.8 555.4,161.1 548,161.7" fill="#25fff3"/>
<polygon points="440,156 447.1,160 451.2,156.8 444.1,152.9" fill="#30ffc1"/>
<polygon points="490.6,168.1 497.8,169.8 501.5,166.8 494.4,165.1" fill="#39e9ff"/>
<polygon points="591.6,150.3 599.3,147.9 602.2,145.7 594.6,148.2" fill="#0fff75"/>
<polygon points="562.8,160.2 570.3,158.9 573.4,156.4 566,157.7" fill="#1affc4"/>
<polygon points="472.5,166.5 479.7,169.1 483.5,165.9 476.4,163.4" fill="#3af6ff"/>
<polygon points="447.1,160 454.3,163.6 458.3,160.4 451.2,156.8" fill="#34ffd5"/>
<polygon points="515.9,169.2 523.2,169.9 526.7,166.9 519.5,166.3" fill="#34edff"/>
<polygon points="620.6,137.5 628.5,133.7 631.2,131.9 623.3,135.6" fill="#22ff0f"/>
<polygon points="534,167.2 541.3,167.1 544.7,164.3 537.4,164.4" fill="#2cfeff"/>
<polygon points="497.8,169.8 505,171.3 508.7,168.2 501.5,166.8" fill="#39e9ff"/>
<polygon points="581,154.8 588.6,152.7 591.6,150.3 584,152.4" fill="#0fff92"/>
<polygon points="454.3,163.6 461.4,166.9 465.4,163.6 458.3,160.4" fill="#38ffe6"/>
<polygon points="552.1,163.8 559.5,162.9 562.8,160.2 555.4,161.1" fill="#22ffd6"/>
<polygon points="479.7,169.1 486.8,171.2 490.6,168.1 483.5,165.9" fill="#3bf1ff"/>
<polygon points="609.9,142.8 617.8,139.5 620.6,137.5 612.8,140.8" fill="#0fff26"/>
<polygon points="428.7,154.8 435.8,159.2 440,156 432.9,151.6" fill="#2effac"/>
<polygon points="570.3,158.9 577.8,157.3 581,154.8 573.4,156.4" fill="#16ffaa"/>
<polygon points="461.4,166.9 468.6,169.8 472.5,166.5 465.4,163.6" fill="#3bfff9"/>
<polygon points="505,171.3 512.3,172.3 515.9,169.2 508.7,168.2" fill="#39edff"/>
<polygon points="523.2,169.9 530.5,170.2 534,167.2 526.7,166.9" fill="#32f7ff"/>
<polygon points="599.3,147.9 607,145 609.9,142.8 602.2,145.7" fill="#0fff47"/>
<polygon points="435.8,159.2 443,163.3 447.1,160 440,156" fill="#33ffbf"/>
<polygon points="486.8,171.2 494,173.1 497.8,169.8 490.6,168.1" fill="#3deeff"/>
<polygon points="541.3,167.1 548.7,166.6 552.1,163.8 544.7,164.3" fill="#29ffe6"/>
<polygon points="468.6,169.8 475.8,172.4 479.7,169.1 472.5,166.5" fill="#3dfaff"/>
<polygon points="559.5,162.9 567.1,161.6 570.3,158.9 562.8,160.2" fill="#1effbc"/>
<polygon points="588.6,152.7 596.3,150.2 599.3,147.9 591.6,150.3" fill="#0fff66"/>
<polygon points="443,163.3 450.2,167 454.3,163.6 447.1,160" fill="#37ffd2"/>
<polygon points="512.3,172.3 519.6,173 523.2,169.9 515.9,169.2" fill="#38f3ff"/>
<polygon points="494,173.1 501.3,174.5 505,171.3 497.8,169.8" fill="#3deeff"/>
<polygon points="530.5,170.2 537.9,170.1 541.3,167.1 534,167.2" fill="#30fff6"/>
<polygon points="617.8,139.5 625.7,135.8 628.5,133.7 620.6,137.5" fill="#35ff0f"/>
<polygon points="450.2,167 457.4,170.3 461.4,166.9 454.3,163.6" fill="#3bffe2"/>
<polygon points="577.8,157.3 585.5,155.2 588.6,152.7 581,154.8" fill="#12ff87"/>
<polygon points="475.8,172.4 483,174.6 486.8,171.2 479.7,169.1" fill="#3ff4ff"/>
<polygon points="548.7,166.6 556.2,165.8 559.5,162.9 552.1,163.8" fill="#26ffce"/>
<polygon points="607,145 614.9,141.7 617.8,139.5 609.9,142.8" fill="#0fff18"/>
<polygon points="424.4,158.3 431.6,162.7 435.8,159.2 428.7,154.8" fill="#31ffab"/>
<polygon points="457.4,170.3 464.6,173.3 468.6,169.8 461.4,166.9" fill="#3efff5"/>
<polygon points="501.3,174.5 508.6,175.6 512.3,172.3 505,171.3" fill="#3cf2ff"/>
<polygon points="567.1,161.6 574.7,160 577.8,157.3 570.3,158.9" fill="#1affa3"/>
<polygon points="519.6,173 527,173.3 530.5,170.2 523.2,169.9" fill="#36fdff"/>
<polygon points="431.6,162.7 438.8,166.8 443,163.3 435.8,159.2" fill="#36ffbe"/>
<polygon points="483,174.6 490.2,176.5 494,173.1 486.8,171.2" fill="#40f2ff"/>
<polygon points="596.3,150.2 604.1,147.3 607,145 599.3,147.9" fill="#0fff3a"/>
<polygon points="537.9,170.1 545.3,169.6 548.7,166.6 541.3,167.1" fill="#2dffdd"/>
<polygon points="464.6,173.3 471.8,175.9 475.8,172.4 468.6,169.8" fill="#41fdff"/>
<polygon points="438.8,166.8 446.1,170.6 450.2,167 443,163.3" fill="#3affd1"/>
<polygon points="556.2,165.8 563.8,164.5 567.1,161.6 559.5,162.9" fill="#22ffb6"/>
<polygon points="585.5,155.2 593.3,152.8 596.3,150.2 588.6,152.7" fill="#0fff59"/>
<polygon points="508.6,175.6 516,176.3 519.6,173 512.3,172.3" fill="#3bf8ff"/>
<polygon points="490.2,176.5 497.5,178 501.3,174.5 494,173.1" fill="#40f2ff"/>
<polygon points="527,173.3 534.4,173.3 537.9,170.1 530.5,170.2" fill="#33ffee"/>
<polygon points="446.1,170.6 453.3,174 457.4,170.3 450.2,167" fill="#3effe1"/>
<polygon points="614.9,141.7 622.9,137.9 625.7,135.8 617.8,139.5" fill="#46ff0f"/>
<polygon points="471.8,175.9 479.1,178.2 483,174.6 475.8,172.4" fill="#42f7ff"/>
<polygon points="574.7,160 582.4,157.9 585.5,155.2 577.8,157.3" fill="#16ff7d"/>
<polygon points="545.3,169.6 552.9,168.8 556.2,165.8 548.7,166.6" fill="#29ffc8"/>
<polygon points="420.1,161.9 427.4,166.4 431.6,162.7 424.4,158.3" fill="#34ffac"/>
<polygon points="604.1,147.3 612,144 614.9,141.7 607,145" fill="#17ff0f"/>
<polygon points="453.3,174 460.5,177 464.6,173.3 457.4,170.3" fill="#41fff3"/>
<polygon points="497.5,178 504.9,179.1 508.6,175.6 501.3,174.5" fill="#40f5ff"/>
<polygon points="516,176.3 523.4,176.7 527,173.3 519.6,173" fill="#39fffb"/>
<polygon points="563.8,164.5 571.4,162.9 574.7,160 567.1,161.6" fill="#1eff9d"/>
<polygon points="427.4,166.4 434.6,170.6 438.8,166.8 431.6,162.7" fill="#39ffbf"/>
<polygon points="479.1,178.2 486.4,180.1 490.2,176.5 483,174.6" fill="#44f4ff"/>
<polygon points="534.4,173.3 541.9,172.9 545.3,169.6 537.9,170.1" fill="#30ffd9"/>
<polygon points="593.3,152.8 601.1,149.9 604.1,147.3 596.3,150.2" fill="#0fff2f"/>
<polygon points="460.5,177 467.8,179.6 471.8,175.9 464.6,173.3" fill="#44feff"/>
<polygon points="434.6,170.6 441.9,174.4 446.1,170.6 438.8,166.8" fill="#3dffd1"/>
<polygon points="552.9,168.8 560.5,167.6 563.8,164.5 556.2,165.8" fill="#25ffb2"/>
<polygon points="582.4,157.9 590.2,155.5 593.3,152.8 585.5,155.2" fill="#11ff50"/>
<polygon points="504.9,179.1 512.3,179.8 516,176.3 508.6,175.6" fill="#3ffbff"/>
<polygon points="486.4,180.1 493.7,181.6 497.5,178 490.2,176.5" fill="#44f4ff"/>
<polygon points="523.4,176.7 530.8,176.7 534.4,173.3 527,173.3" fill="#37ffe8"/>
<polygon points="441.9,174.4 449.1,177.8 453.3,174 446.1,170.6" fill="#41ffe1"/>
<polygon points="467.8,179.6 475.1,181.9 479.1,178.2 471.8,175.9" fill="#46f9ff"/>
<polygon points="612,144 620.1,140.3 622.9,137.9 614.9,141.7" fill="#53ff0f"/>
<polygon points="571.4,162.9 579.2,160.9 582.4,157.9 574.7,160" fill="#19ff76"/>
<polygon points="541.9,172.9 549.4,172 552.9,168.8 545.3,169.6" fill="#2dffc4"/>
<polygon points="415.7,165.7 423,170.3 427.4,166.4 420.1,161.9" fill="#37ffad"/>
<polygon points="449.1,177.8 456.4,180.9 460.5,177 453.3,174" fill="#44fff2"/>
<polygon points="601.1,149.9 609.1,146.6 612,144 604.1,147.3" fill="#25ff0f"/>
<polygon points="493.7,181.6 501.1,182.8 504.9,179.1 497.5,178" fill="#43f7ff"/>
<polygon points="423,170.3 430.3,174.5 434.6,170.6 427.4,166.4" fill="#3cffc0"/>
<polygon points="512.3,179.8 519.7,180.2 523.4,176.7 516,176.3" fill="#3dfff7"/>
<polygon points="560.5,167.6 568.2,166 571.4,162.9 563.8,164.5" fill="#21ff97"/>
<polygon points="475.1,181.9 482.5,183.9 486.4,180.1 479.1,178.2" fill="#47f6ff"/>
<polygon points="530.8,176.7 538.4,176.3 541.9,172.9 534.4,173.3" fill="#34ffd5"/>
<polygon points="590.2,155.5 598.1,152.6 601.1,149.9 593.3,152.8" fill="#0fff25"/>
<polygon points="456.4,180.9 463.8,183.6 467.8,179.6 460.5,177" fill="#47ffff"/>
<polygon points="430.3,174.5 437.6,178.3 441.9,174.4 434.6,170.6" fill="#40ffd2"/>
<polygon points="549.4,172 557.1,170.8 560.5,167.6 552.9,168.8" fill="#29ffaf"/>
<polygon points="579.2,160.9 587,158.4 590.2,155.5 582.4,157.9" fill="#14ff4b"/>
<polygon points="501.1,182.8 508.5,183.6 512.3,179.8 504.9,179.1" fill="#42fdff"/>
<polygon points="482.5,183.9 489.8,185.4 493.7,181.6 486.4,180.1" fill="#47f6ff"/>
<polygon points="437.6,178.3 445,181.8 449.1,177.8 441.9,174.4" fill="#44ffe2"/>
<polygon points="519.7,180.2 527.2,180.2 530.8,176.7 523.4,176.7" fill="#3affe4"/>
<polygon points="463.8,183.6 471.1,185.9 475.1,181.9 467.8,179.6" fill="#49f9ff"/>
<polygon points="411.3,169.7 418.6,174.4 423,170.3 415.7,165.7" fill="#3affaf"/>
<polygon points="609.1,146.6 617.2,142.9 620.1,140.3 612,144" fill="#5bff0f"/>
<polygon points="568.2,166 576,164 579.2,160.9 571.4,162.9" fill="#1dff70"/>
<polygon points="538.4,176.3 546,175.5 549.4,172 541.9,172.9" fill="#30ffc1"/>
<polygon points="445,181.8 452.3,184.9 456.4,180.9 449.1,177.8" fill="#47fff3"/>
<polygon points="418.6,174.4 426,178.6 430.3,174.5 423,170.3" fill="#3effc2"/>
<polygon points="489.8,185.4 497.3,186.7 501.1,182.8 493.7,181.6" fill="#47f9ff"/>
<polygon points="598.1,152.6 606.1,149.3 609.1,146.6 601.1,149.9" fill="#31ff0f"/>
<polygon points="508.5,183.6 516,184 519.7,180.2 512.3,179.8" fill="#40fff4"/>
<polygon points="471.1,185.9 478.5,187.9 482.5,183.9 475.1,181.9" fill="#4af6ff"/>
<polygon points="557.1,170.8 564.8,169.3 568.2,166 560.5,167.6" fill="#25ff92"/>
<polygon points="527.2,180.2 534.8,179.9 538.4,176.3 530.8,176.7" fill="#37ffd3"/>
<polygon points="452.3,184.9 459.7,187.7 463.8,183.6 456.4,180.9" fill="#4afeff"/>
<polygon points="426,178.6 433.3,182.5 437.6,178.3 430.3,174.5" fill="#43ffd4"/>
<polygon points="587,158.4 595,155.6 598.1,152.6 590.2,155.5" fill="#10ff1d"/>
<polygon points="546,175.5 553.7,174.3 557.1,170.8 549.4,172" fill="#2cffad"/>
<polygon points="497.3,186.7 504.7,187.5 508.5,183.6 501.1,182.8" fill="#46feff"/>
<polygon points="478.5,187.9 485.9,189.5 489.8,185.4 482.5,183.9" fill="#4bf6ff"/>
<polygon points="576,164 583.8,161.5 587,158.4 579.2,160.9" fill="#18ff46"/>
<polygon points="433.3,182.5 440.7,186 445,181.8 437.6,178.3" fill="#47ffe4"/>
<polygon points="516,184 523.6,184 527.2,180.2 519.7,180.2" fill="#3effe2"/>
<polygon points="459.7,187.7 467,190.1 471.1,185.9 463.8,183.6" fill="#4cf8ff"/>
<polygon points="406.8,174 414.2,178.6 418.6,174.4 411.3,169.7" fill="#3cffb2"/>
<polygon points="534.8,179.9 542.5,179.1 546,175.5 538.4,176.3" fill="#34ffbf"/>
<polygon points="564.8,169.3 572.7,167.3 576,164 568.2,166" fill="#20ff6c"/>
<polygon points="606.1,149.3 614.2,145.6 617.2,142.9 609.1,146.6" fill="#62ff0f"/>
<polygon points="440.7,186 448.1,189.2 452.3,184.9 445,181.8" fill="#4afff6"/>
<polygon points="414.2,178.6 421.6,183 426,178.6 418.6,174.4" fill="#41ffc5"/>
<polygon points="485.9,189.5 493.4,190.7 497.3,186.7 489.8,185.4" fill="#4af9ff"/>
<polygon points="504.7,187.5 512.3,187.9 516,184 508.5,183.6" fill="#44fff3"/>
<polygon points="467,190.1 474.5,192.1 478.5,187.9 471.1,185.9" fill="#4df5ff"/>
<polygon points="595,155.6 603,152.3 606.1,149.3 598.1,152.6" fill="#3cff0f"/>
<polygon points="553.7,174.3 561.4,172.7 564.8,169.3 557.1,170.8" fill="#28ff90"/>
<polygon points="523.6,184 531.2,183.7 534.8,179.9 527.2,180.2" fill="#3bffd2"/>
<polygon points="421.6,183 429,186.9 433.3,182.5 426,178.6" fill="#46ffd8"/>
<polygon points="448.1,189.2 455.5,192 459.7,187.7 452.3,184.9" fill="#4dfcff"/>
<polygon points="583.8,161.5 591.8,158.7 595,155.6 587,158.4" fill="#13ff18"/>
<polygon points="542.5,179.1 550.2,178 553.7,174.3 546,175.5" fill="#30ffac"/>
<polygon points="493.4,190.7 500.9,191.6 504.7,187.5 497.3,186.7" fill="#49feff"/>
<polygon points="474.5,192.1 481.9,193.8 485.9,189.5 478.5,187.9" fill="#4ef5ff"/>
<polygon points="429,186.9 436.4,190.5 440.7,186 433.3,182.5" fill="#4affe9"/>
<polygon points="572.7,167.3 580.6,164.9 583.8,161.5 576,164" fill="#1bff44"/>
<polygon points="512.3,187.9 519.9,188 523.6,184 516,184" fill="#41ffe2"/>
<polygon points="455.5,192 462.9,194.5 467,190.1 459.7,187.7" fill="#4ff6ff"/>
<polygon points="402.3,178.4 409.7,183.1 414.2,178.6 406.8,174" fill="#3fffb6"/>
<polygon points="531.2,183.7 538.9,183 542.5,179.1 534.8,179.9" fill="#37ffbf"/>
<polygon points="436.4,190.5 443.8,193.7 448.1,189.2 440.7,186" fill="#4dfffa"/>
<polygon points="561.4,172.7 569.3,170.8 572.7,167.3 564.8,169.3" fill="#23ff6a"/>
<polygon points="409.7,183.1 417.2,187.5 421.6,183 414.2,178.6" fill="#44ffc9"/>
<polygon points="603,152.3 611.2,148.6 614.2,145.6 606.1,149.3" fill="#68ff0f"/>
<polygon points="481.9,193.8 489.4,195 493.4,190.7 485.9,189.5" fill="#4df7ff"/>
<polygon points="462.9,194.5 470.4,196.5 474.5,192.1 467,190.1" fill="#50f3ff"/>
<polygon points="500.9,191.6 508.5,192.1 512.3,187.9 504.7,187.5" fill="#47fff4"/>
<polygon points="591.8,158.7 599.9,155.4 603,152.3 595,155.6" fill="#44ff0f"/>
<polygon points="550.2,178 558,176.4 561.4,172.7 553.7,174.3" fill="#2bff8e"/>
<polygon points="417.2,187.5 424.6,191.5 429,186.9 421.6,183" fill="#48ffdc"/>
<polygon points="443.8,193.7 451.3,196.6 455.5,192 448.1,189.2" fill="#50f9ff"/>
<polygon points="519.9,188 527.5,187.7 531.2,183.7 523.6,184" fill="#3effd2"/>
<polygon points="580.6,164.9 588.6,162 591.8,158.7 583.8,161.5" fill="#18ff16"/>
<polygon points="470.4,196.5 477.9,198.2 481.9,193.8 474.5,192.1" fill="#51f3ff"/>
<polygon points="424.6,191.5 432,195.2 436.4,190.5 429,186.9" fill="#4cffef"/>
<polygon points="489.4,195 497,195.9 500.9,191.6 493.4,190.7" fill="#4cfdff"/>
<polygon points="538.9,183 546.6,181.8 550.2,178 542.5,179.1" fill="#33ffad"/>
<polygon points="451.3,196.6 458.7,199 462.9,194.5 455.5,192" fill="#52f4ff"/>
<polygon points="508.5,192.1 516.1,192.2 519.9,188 512.3,187.9" fill="#45ffe3"/>
<polygon points="569.3,170.8 577.3,168.4 580.6,164.9 572.7,167.3" fill="#1eff42"/>
<polygon points="397.7,183.1 405.2,187.9 409.7,183.1 402.3,178.4" fill="#41ffbb"/>
<polygon points="432,195.2 439.5,198.4 443.8,193.7 436.4,190.5" fill="#50feff"/>
<polygon points="527.5,187.7 535.2,187 538.9,183 531.2,183.7" fill="#3affc0"/>
<polygon points="405.2,187.9 412.7,192.3 417.2,187.5 409.7,183.1" fill="#46ffce"/>
<polygon points="558,176.4 565.9,174.5 569.3,170.8 561.4,172.7" fill="#27ff69"/>
<polygon points="477.9,198.2 485.4,199.5 489.4,195 481.9,193.8" fill="#50f5ff"/>
<polygon points="599.9,155.4 608.1,151.7 611.2,148.6 603,152.3" fill="#6cff0f"/>
<polygon points="458.7,199 466.3,201.2 470.4,196.5 462.9,194.5" fill="#53f1ff"/>
<polygon points="497,195.9 504.6,196.5 508.5,192.1 500.9,191.6" fill="#4afff6"/>
<polygon points="412.7,192.3 420.1,196.3 424.6,191.5 417.2,187.5" fill="#4bffe1"/>
<polygon points="439.5,198.4 447,201.3 451.3,196.6 443.8,193.7" fill="#53f6ff"/>
<polygon points="588.6,162 596.8,158.8 599.9,155.4 591.8,158.7" fill="#4cff11"/>
<polygon points="546.6,181.8 554.5,180.3 558,176.4 550.2,178" fill="#2fff8e"/>
<polygon points="516.1,192.2 523.8,191.9 527.5,187.7 519.9,188" fill="#41ffd3"/>
<polygon points="577.3,168.4 585.4,165.6 588.6,162 580.6,164.9" fill="#20ff19"/>
<polygon points="420.1,196.3 427.6,200 432,195.2 424.6,191.5" fill="#4ffff6"/>
<polygon points="466.3,201.2 473.8,202.9 477.9,198.2 470.4,196.5" fill="#54f0ff"/>
<polygon points="485.4,199.5 493,200.5 497,195.9 489.4,195" fill="#4ffaff"/>
<polygon points="535.2,187 543.1,185.9 546.6,181.8 538.9,183" fill="#36ffae"/>
<polygon points="447,201.3 454.5,203.8 458.7,199 451.3,196.6" fill="#55f0ff"/>
<polygon points="504.6,196.5 512.3,196.6 516.1,192.2 508.5,192.1" fill="#48ffe5"/>
<polygon points="565.9,174.5 573.9,172.1 577.3,168.4 569.3,170.8" fill="#22ff43"/>
<polygon points="427.6,200 435.1,203.3 439.5,198.4 432,195.2" fill="#52f9ff"/>
<polygon points="523.8,191.9 531.6,191.3 535.2,187 527.5,187.7" fill="#3effc2"/>
<polygon points="554.5,180.3 562.5,178.4 565.9,174.5 558,176.4" fill="#2aff6a"/>
<polygon points="473.8,202.9 481.4,204.3 485.4,199.5 477.9,198.2" fill="#53f2ff"/>
<polygon points="454.5,203.8 462.1,206 466.3,201.2 458.7,199" fill="#56edff"/>
<polygon points="493,200.5 500.7,201.1 504.6,196.5 497,195.9" fill="#4dfffa"/>
<polygon points="596.8,158.8 605,155.1 608.1,151.7 599.9,155.4" fill="#70ff0f"/>
<polygon points="435.1,203.3 442.7,206.3 447,201.3 439.5,198.4" fill="#55f1ff"/>
<polygon points="543.1,185.9 551,184.4 554.5,180.3 546.6,181.8" fill="#32ff90"/>
<polygon points="512.3,196.6 520,196.4 523.8,191.9 516.1,192.2" fill="#44ffd6"/>
<polygon points="585.4,165.6 593.5,162.3 596.8,158.8 588.6,162" fill="#53ff14"/>
<polygon points="462.1,206 469.6,207.8 473.8,202.9 466.3,201.2" fill="#56ecff"/>
<polygon points="573.9,172.1 582,169.3 585.4,165.6 577.3,168.4" fill="#26ff1c"/>
<polygon points="481.4,204.3 489,205.3 493,200.5 485.4,199.5" fill="#52f7ff"/>
<polygon points="531.6,191.3 539.4,190.2 543.1,185.9 535.2,187" fill="#39ffb0"/>
<polygon points="442.7,206.3 450.2,208.9 454.5,203.8 447,201.3" fill="#57ecff"/>
<polygon points="500.7,201.1 508.4,201.2 512.3,196.6 504.6,196.5" fill="#4bffea"/>
<polygon points="562.5,178.4 570.5,176 573.9,172.1 565.9,174.5" fill="#25ff44"/>
<polygon points="520,196.4 527.8,195.7 531.6,191.3 523.8,191.9" fill="#41ffc4"/>
<polygon points="469.6,207.8 477.3,209.2 481.4,204.3 473.8,202.9" fill="#56eeff"/>
<polygon points="450.2,208.9 457.8,211.1 462.1,206 454.5,203.8" fill="#59e9ff"/>
<polygon points="551,184.4 558.9,182.5 562.5,178.4 554.5,180.3" fill="#2dff6c"/>
<polygon points="489,205.3 496.7,205.9 500.7,201.1 493,200.5" fill="#50ffff"/>
<polygon points="593.5,162.3 601.8,158.6 605,155.1 596.8,158.8" fill="#73ff0f"/>
<polygon points="508.4,201.2 516.2,201 520,196.4 512.3,196.6" fill="#48ffd9"/>
<polygon points="539.4,190.2 547.3,188.7 551,184.4 543.1,185.9" fill="#35ff93"/>
<polygon points="582,169.3 590.3,166.1 593.5,162.3 585.4,165.6" fill="#57ff17"/>
<polygon points="457.8,211.1 465.4,212.9 469.6,207.8 462.1,206" fill="#59e8ff"/>
<polygon points="477.3,209.2 484.9,210.2 489,205.3 481.4,204.3" fill="#55f3ff"/>
<polygon points="570.5,176 578.7,173.3 582,169.3 573.9,172.1" fill="#2bff1f"/>
<polygon points="527.8,195.7 535.7,194.7 539.4,190.2 531.6,191.3" fill="#3cffb2"/>
<polygon points="496.7,205.9 504.4,206.1 508.4,201.2 500.7,201.1" fill="#4efff0"/>
<polygon points="558.9,182.5 567,180.2 570.5,176 562.5,178.4" fill="#28ff47"/>
<polygon points="516.2,201 524,200.4 527.8,195.7 520,196.4" fill="#44ffc8"/>
<polygon points="465.4,212.9 473.1,214.4 477.3,209.2 469.6,207.8" fill="#59eaff"/>
<polygon points="547.3,188.7 555.4,186.9 558.9,182.5 551,184.4" fill="#30ff6f"/>
<polygon points="484.9,210.2 492.7,210.9 496.7,205.9 489,205.3" fill="#53faff"/>
<polygon points="590.3,166.1 598.6,162.4 601.8,158.6 593.5,162.3" fill="#76ff12"/>
<polygon points="504.4,206.1 512.3,205.9 516.2,201 508.4,201.2" fill="#4affde"/>
<polygon points="535.7,194.7 543.7,193.3 547.3,188.7 539.4,190.2" fill="#38ff97"/>
<polygon points="578.7,173.3 586.9,170 590.3,166.1 582,169.3" fill="#5aff1a"/>
<polygon points="473.1,214.4 480.8,215.4 484.9,210.2 477.3,209.2" fill="#58eeff"/>
<polygon points="567,180.2 575.2,177.4 578.7,173.3 570.5,176" fill="#2dff22"/>
<polygon points="524,200.4 531.9,199.4 535.7,194.7 527.8,195.7" fill="#3fffb6"/>
<polygon points="492.7,210.9 500.5,211.1 504.4,206.1 496.7,205.9" fill="#51fff7"/>
<polygon points="555.4,186.9 563.5,184.5 567,180.2 558.9,182.5" fill="#2bff4b"/>
<polygon points="512.3,205.9 520.1,205.4 524,200.4 516.2,201" fill="#47ffcc"/>
<polygon points="480.8,215.4 488.6,216.1 492.7,210.9 484.9,210.2" fill="#56f5ff"/>
<polygon points="543.7,193.3 551.7,191.4 555.4,186.9 547.3,188.7" fill="#33ff74"/>
<polygon points="500.5,211.1 508.3,211 512.3,205.9 504.4,206.1" fill="#4dffe3"/>
<polygon points="586.9,170 595.3,166.4 598.6,162.4 590.3,166.1" fill="#78ff15"/>
<polygon points="531.9,199.4 539.9,198 543.7,193.3 535.7,194.7" fill="#3bff9c"/>
<polygon points="575.2,177.4 583.5,174.2 586.9,170 578.7,173.3" fill="#5cff1d"/>
<polygon points="520.1,205.4 528.1,204.4 531.9,199.4 524,200.4" fill="#42ffbb"/>
<polygon points="488.6,216.1 496.4,216.4 500.5,211.1 492.7,210.9" fill="#53ffff"/>
<polygon points="563.5,184.5 571.7,181.8 575.2,177.4 567,180.2" fill="#2eff25"/>
<polygon points="551.7,191.4 559.9,189.1 563.5,184.5 555.4,186.9" fill="#2eff50"/>
<polygon points="508.3,211 516.2,210.5 520.1,205.4 512.3,205.9" fill="#49ffd2"/>
<polygon points="539.9,198 548.1,196.2 551.7,191.4 543.7,193.3" fill="#36ff7a"/>
<polygon points="496.4,216.4 504.3,216.3 508.3,211 500.5,211.1" fill="#50ffec"/>
<polygon points="583.5,174.2 592,170.6 595.3,166.4 586.9,170" fill="#7aff18"/>
<polygon points="528.1,204.4 536.2,203 539.9,198 531.9,199.4" fill="#3effa3"/>
<polygon points="571.7,181.8 580.1,178.6 583.5,174.2 575.2,177.4" fill="#5cff20"/>
<polygon points="516.2,210.5 524.2,209.6 528.1,204.4 520.1,205.4" fill="#45ffc0"/>
<polygon points="559.9,189.1 568.2,186.4 571.7,181.8 563.5,184.5" fill="#2dff28"/>
<polygon points="548.1,196.2 556.3,194 559.9,189.1 551.7,191.4" fill="#31ff56"/>
<polygon points="504.3,216.3 512.3,215.9 516.2,210.5 508.3,211" fill="#4cffd9"/>
<polygon points="536.2,203 544.3,201.2 548.1,196.2 539.9,198" fill="#39ff82"/>
<polygon points="524.2,209.6 532.3,208.2 536.2,203 528.1,204.4" fill="#40ffab"/>
<polygon points="580.1,178.6 588.6,175 592,170.6 583.5,174.2" fill="#7aff1a"/>
<polygon points="568.2,186.4 576.6,183.3 580.1,178.6 571.7,181.8" fill="#5bff23"/>
<polygon points="512.3,215.9 520.3,215 524.2,209.6 516.2,210.5" fill="#48ffc6"/>
<polygon points="556.3,194 564.6,191.3 568.2,186.4 559.9,189.1" fill="#2bff2c"/>
<polygon points="544.3,201.2 552.6,199 556.3,194 548.1,196.2" fill="#33ff5d"/>
<polygon points="532.3,208.2 540.5,206.5 544.3,201.2 536.2,203" fill="#3bff8a"/>
<polygon points="520.3,215 528.4,213.7 532.3,208.2 524.2,209.6" fill="#43ffb2"/>
<polygon points="576.6,183.3 585.1,179.7 588.6,175 580.1,178.6" fill="#79ff1d"/>
<polygon points="564.6,191.3 573,188.1 576.6,183.3 568.2,186.4" fill="#58ff26"/>
<polygon points="552.6,199 560.9,196.3 564.6,191.3 556.3,194" fill="#2eff35"/>
<polygon points="540.5,206.5 548.8,204.3 552.6,199 544.3,201.2" fill="#36ff66"/>
<polygon points="528.4,213.7 536.7,211.9 540.5,206.5 532.3,208.2" fill="#3eff93"/>
<polygon points="573,188.1 581.6,184.6 585.1,179.7 576.6,183.3" fill="#77ff20"/>
<polygon points="560.9,196.3 569.4,193.2 573,188.1 564.6,191.3" fill="#53ff28"/>
<polygon points="548.8,204.3 557.2,201.6 560.9,196.3 552.6,199" fill="#30ff3f"/>
<polygon points="536.7,211.9 545,209.8 548.8,204.3 540.5,206.5" fill="#39ff6f"/>
<polygon points="569.4,193.2 578,189.7 581.6,184.6 573,188.1" fill="#75ff23"/>
<polygon points="557.2,201.6 565.7,198.6 569.4,193.2 560.9,196.3" fill="#4dff2b"/>
<polygon points="545,209.8 553.4,207.2 557.2,201.6 548.8,204.3" fill="#33ff49"/>
<polygon points="565.7,198.6 574.3,195 578,189.7 569.4,193.2" fill="#71ff25"/>
<polygon points="553.4,207.2 562,204.2 565.7,198.6 557.2,201.6" fill="#45ff2d"/>
<polygon points="562,204.2 570.6,200.7 574.3,195 565.7,198.6" fill="#6dff28"/>
</g>
<circle cx="520.9" cy="167.4" r="2.9" fill="#b00000" stroke="#5a0000" stroke-width="0.7"/>
<line x1="556.5" y1="130.3" x2="556.2" y2="148" stroke="#1c1c1c" stroke-width="0.8"/>
<circle cx="556.5" cy="130.3" r="2.9" fill="#b00000" stroke="#5a0000" stroke-width="0.7"/>
<line x1="608.5" y1="105.6" x2="606.6" y2="140" stroke="#1c1c1c" stroke-width="0.8"/>
<circle cx="608.5" cy="105.6" r="2.9" fill="#b00000" stroke="#5a0000" stroke-width="0.7"/>
<path d="M391.4,95L403.1,257.2" fill="none" stroke="#2a2a2a" stroke-width="0.8"/>
<path d="M403.1,257.2L567.8,303.2L631.1,211.9" fill="none" stroke="#161616" stroke-width="0.9" stroke-linejoin="round"/>
<circle cx="391.4" cy="95" r="1.35" fill="#000"/>
<circle cx="393.2" cy="120" r="1.35" fill="#000"/>
<circle cx="395" cy="144.9" r="1.35" fill="#000"/>
<circle cx="396.8" cy="169.9" r="1.35" fill="#000"/>
<circle cx="398.6" cy="194.8" r="1.35" fill="#000"/>
<circle cx="400.4" cy="219.8" r="1.35" fill="#000"/>
<circle cx="403.1" cy="257.2" r="1.35" fill="#000"/>
<circle cx="444.3" cy="268.7" r="1.35" fill="#000"/>
<circle cx="485.4" cy="280.2" r="1.35" fill="#000"/>
<circle cx="526.6" cy="291.7" r="1.35" fill="#000"/>
<circle cx="567.8" cy="303.2" r="1.35" fill="#000"/>
<circle cx="580.5" cy="284.9" r="1.35" fill="#000"/>
<circle cx="593.1" cy="266.7" r="1.35" fill="#000"/>
<circle cx="605.8" cy="248.4" r="1.35" fill="#000"/>
<circle cx="618.4" cy="230.2" r="1.35" fill="#000"/>
<circle cx="631.1" cy="211.9" r="1.35" fill="#000"/>
<rect x="18.2" y="0.2" width="87.2" height="46.3" fill="#fff" stroke="#c0c0c0" stroke-width="1.1"/>
<text x="20.3" y="24.8" font-family='"Liberation Serif", "Times New Roman", serif' font-size="10" textLength="71.6" lengthAdjust="spacingAndGlyphs" font-weight="bold" fill="#111">BSFC (kg/kW-h)</text>
<text x="20.3" y="39.1" font-family='"Liberation Serif", "Times New Roman", serif' font-size="10" textLength="16.4" lengthAdjust="spacingAndGlyphs" fill="#1a1aff">0.21</text>
<rect x="41.0" y="29.8" width="31.3" height="11.7" fill="url(#lg)" stroke="#2a2a2a" stroke-opacity="0.55" stroke-width="0.5"/>
<text x="75.2" y="39.1" font-family='"Liberation Serif", "Times New Roman", serif' font-size="10" textLength="17.4" lengthAdjust="spacingAndGlyphs" fill="#ff1a1a">0.98</text>
<rect x="341.3" y="18.3" width="87.2" height="46.3" fill="#fff" stroke="#c0c0c0" stroke-width="1.1"/>
<text x="343.40000000000003" y="42.900000000000006" font-family='"Liberation Serif", "Times New Roman", serif' font-size="10" textLength="71.6" lengthAdjust="spacingAndGlyphs" font-weight="bold" fill="#111">BSFC (kg/kW-h)</text>
<text x="343.40000000000003" y="57.2" font-family='"Liberation Serif", "Times New Roman", serif' font-size="10" textLength="16.4" lengthAdjust="spacingAndGlyphs" fill="#1a1aff">0.01</text>
<rect x="364.1" y="47.900000000000006" width="31.3" height="11.7" fill="url(#lg)" stroke="#2a2a2a" stroke-opacity="0.55" stroke-width="0.5"/>
<text x="398.3" y="57.2" font-family='"Liberation Serif", "Times New Roman", serif' font-size="10" textLength="12.2" lengthAdjust="spacingAndGlyphs" fill="#ff1a1a">0.9</text>
<text x="34.6" y="93" font-family='"Liberation Sans", Arial, sans-serif' font-size="8.8" text-anchor="end" fill="#222">1</text>
<text x="37.2" y="115.0" font-family='"Liberation Sans", Arial, sans-serif' font-size="8.8" text-anchor="end" textLength="10" lengthAdjust="spacingAndGlyphs" fill="#222">0.8</text>
<text x="40.2" y="137.9" font-family='"Liberation Sans", Arial, sans-serif' font-size="8.8" text-anchor="end" textLength="10.5" lengthAdjust="spacingAndGlyphs" fill="#222">0.6</text>
<text x="42" y="159.9" font-family='"Liberation Sans", Arial, sans-serif' font-size="8.8" text-anchor="end" textLength="10" lengthAdjust="spacingAndGlyphs" fill="#222">0.4</text>
<text x="44.5" y="183.1" font-family='"Liberation Sans", Arial, sans-serif' font-size="8.8" text-anchor="end" textLength="10.5" lengthAdjust="spacingAndGlyphs" fill="#222">0.2</text>
<text x="46.2" y="205.3" font-family='"Liberation Sans", Arial, sans-serif' font-size="8.8" text-anchor="end" fill="#222">0</text>
<text x="46.5" y="250.2" font-family='"Liberation Sans", Arial, sans-serif' font-size="8.8" text-anchor="middle" textLength="8.4" lengthAdjust="spacingAndGlyphs" fill="#222">20</text>
<text x="82" y="267.2" font-family='"Liberation Sans", Arial, sans-serif' font-size="8.8" text-anchor="middle" textLength="8.4" lengthAdjust="spacingAndGlyphs" fill="#222">30</text>
<text x="118.3" y="285" font-family='"Liberation Sans", Arial, sans-serif' font-size="8.8" text-anchor="middle" textLength="8.4" lengthAdjust="spacingAndGlyphs" fill="#222">40</text>
<text x="154.4" y="302.5" font-family='"Liberation Sans", Arial, sans-serif' font-size="8.8" text-anchor="middle" textLength="8.4" lengthAdjust="spacingAndGlyphs" fill="#222">50</text>
<text x="190.4" y="320.2" font-family='"Liberation Sans", Arial, sans-serif' font-size="8.8" text-anchor="middle" textLength="8.4" lengthAdjust="spacingAndGlyphs" fill="#222">60</text>
<text x="206.4" y="320.1" font-family='"Liberation Sans", Arial, sans-serif' font-size="8.8" text-anchor="middle" textLength="8.4" lengthAdjust="spacingAndGlyphs" fill="#222">50</text>
<text x="224.7" y="300.6" font-family='"Liberation Sans", Arial, sans-serif' font-size="8.8" text-anchor="middle" textLength="8.4" lengthAdjust="spacingAndGlyphs" fill="#222">60</text>
<text x="243.2" y="280.9" font-family='"Liberation Sans", Arial, sans-serif' font-size="8.8" text-anchor="middle" textLength="8.4" lengthAdjust="spacingAndGlyphs" fill="#222">70</text>
<text x="261.6" y="261.4" font-family='"Liberation Sans", Arial, sans-serif' font-size="8.8" text-anchor="middle" textLength="8.4" lengthAdjust="spacingAndGlyphs" fill="#222">80</text>
<text x="279.8" y="241.4" font-family='"Liberation Sans", Arial, sans-serif' font-size="8.8" text-anchor="middle" textLength="8.4" lengthAdjust="spacingAndGlyphs" fill="#222">90</text>
<text x="301.2" y="221.3" font-family='"Liberation Sans", Arial, sans-serif' font-size="8.8" text-anchor="middle" textLength="12" lengthAdjust="spacingAndGlyphs" fill="#222">100</text>
<text x="44.6" y="318.4" font-family='"Liberation Sans", Arial, sans-serif' font-size="11" textLength="89.7" lengthAdjust="spacingAndGlyphs" fill="#222">B: AOME Blend (%)</text>
<text x="261.7" y="291.7" font-family='"Liberation Sans", Arial, sans-serif' font-size="11" textLength="65.3" lengthAdjust="spacingAndGlyphs" fill="#222">C: CuO (ppm)</text>
<text x="8.8" y="171.5" font-family='"Liberation Sans", Arial, sans-serif' font-size="11" text-anchor="middle" textLength="75.5" lengthAdjust="spacingAndGlyphs" fill="#222" transform="rotate(-90 8.8 171.5)">BSFC (kg/kW-h)</text>
<text x="123.4" y="379" font-family='"Liberation Serif", "Times New Roman", serif' font-size="18.5" text-anchor="middle" fill="#111">(a)</text>
<text x="386.6" y="93" font-family='"Liberation Sans", Arial, sans-serif' font-size="8.8" text-anchor="end" fill="#222">1</text>
<text x="389" y="117.8" font-family='"Liberation Sans", Arial, sans-serif' font-size="8.8" text-anchor="end" textLength="10" lengthAdjust="spacingAndGlyphs" fill="#222">0.8</text>
<text x="390.3" y="142.6" font-family='"Liberation Sans", Arial, sans-serif' font-size="8.8" text-anchor="end" textLength="10.5" lengthAdjust="spacingAndGlyphs" fill="#222">0.6</text>
<text x="392" y="167.8" font-family='"Liberation Sans", Arial, sans-serif' font-size="8.8" text-anchor="end" textLength="10" lengthAdjust="spacingAndGlyphs" fill="#222">0.4</text>
<text x="393.5" y="192.7" font-family='"Liberation Sans", Arial, sans-serif' font-size="8.8" text-anchor="end" textLength="10.5" lengthAdjust="spacingAndGlyphs" fill="#222">0.2</text>
<text x="395.5" y="217.1" font-family='"Liberation Sans", Arial, sans-serif' font-size="8.8" text-anchor="end" fill="#222">0</text>
<text x="394.3" y="265.9" font-family='"Liberation Sans", Arial, sans-serif' font-size="8.8" text-anchor="middle" textLength="8.4" lengthAdjust="spacingAndGlyphs" fill="#222">60</text>
<text x="435.8" y="277.2" font-family='"Liberation Sans", Arial, sans-serif' font-size="8.8" text-anchor="middle" textLength="8.4" lengthAdjust="spacingAndGlyphs" fill="#222">50</text>
<text x="476.7" y="288.5" font-family='"Liberation Sans", Arial, sans-serif' font-size="8.8" text-anchor="middle" textLength="8.4" lengthAdjust="spacingAndGlyphs" fill="#222">40</text>
<text x="517.7" y="300.3" font-family='"Liberation Sans", Arial, sans-serif' font-size="8.8" text-anchor="middle" textLength="8.4" lengthAdjust="spacingAndGlyphs" fill="#222">30</text>
<text x="558.6" y="310.6" font-family='"Liberation Sans", Arial, sans-serif' font-size="8.8" text-anchor="middle" textLength="8.4" lengthAdjust="spacingAndGlyphs" fill="#222">20</text>
<text x="578.8" y="310.6" font-family='"Liberation Sans", Arial, sans-serif' font-size="8.8" text-anchor="middle" textLength="12" lengthAdjust="spacingAndGlyphs" fill="#222">100</text>
<text x="588.4" y="293.2" font-family='"Liberation Sans", Arial, sans-serif' font-size="8.8" text-anchor="middle" textLength="8.4" lengthAdjust="spacingAndGlyphs" fill="#222">90</text>
<text x="601" y="275.6" font-family='"Liberation Sans", Arial, sans-serif' font-size="8.8" text-anchor="middle" textLength="8.4" lengthAdjust="spacingAndGlyphs" fill="#222">80</text>
<text x="614" y="257.2" font-family='"Liberation Sans", Arial, sans-serif' font-size="8.8" text-anchor="middle" textLength="8.4" lengthAdjust="spacingAndGlyphs" fill="#222">70</text>
<text x="626.6" y="239.2" font-family='"Liberation Sans", Arial, sans-serif' font-size="8.8" text-anchor="middle" textLength="8.4" lengthAdjust="spacingAndGlyphs" fill="#222">60</text>
<text x="638.6" y="220.8" font-family='"Liberation Sans", Arial, sans-serif' font-size="8.8" text-anchor="middle" textLength="8.4" lengthAdjust="spacingAndGlyphs" fill="#222">50</text>
<text x="425" y="321" font-family='"Liberation Sans", Arial, sans-serif' font-size="11" textLength="61.6" lengthAdjust="spacingAndGlyphs" fill="#222">B: AOME (%)</text>
<text x="619.8" y="278.4" font-family='"Liberation Sans", Arial, sans-serif' font-size="11" textLength="64.6" lengthAdjust="spacingAndGlyphs" fill="#222">C: CuO (ppm)</text>
<text x="358.7" y="179.5" font-family='"Liberation Sans", Arial, sans-serif' font-size="11" text-anchor="middle" textLength="75.5" lengthAdjust="spacingAndGlyphs" fill="#222" transform="rotate(-90 358.7 179.5)">BSFC (kg/kW-h)</text>
<text x="588.2" y="379" font-family='"Liberation Serif", "Times New Roman", serif' font-size="18.5" text-anchor="middle" fill="#111">(b)</text>
</svg>
</body></html>
